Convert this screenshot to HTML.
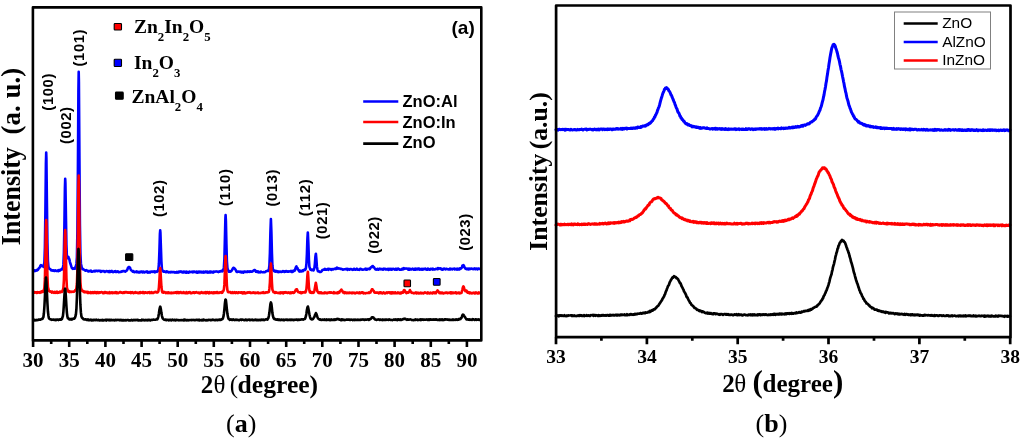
<!DOCTYPE html>
<html><head><meta charset="utf-8"><style>
html,body{margin:0;padding:0;background:#fff;width:1024px;height:441px;overflow:hidden}
svg{display:block;filter:blur(0.35px)}
</style></head><body>
<svg width="1024" height="441" viewBox="0 0 1024 441">
<rect width="1024" height="441" fill="#fff"/>
<!-- chart a curves -->
<g fill="none" stroke-linejoin="round" stroke-linecap="round" stroke-width="2.6">
<path d="M33.40,270.71 L33.90,270.48 L34.40,271.05 L34.90,270.32 L35.40,270.84 L35.90,270.57 L36.40,270.11 L36.90,270.50 L37.40,269.70 L37.90,269.82 L38.40,268.87 L38.90,268.20 L39.40,267.76 L39.90,267.32 L40.40,265.62 L40.90,265.12 L41.20,265.27 L41.40,265.39 L41.90,265.96 L42.40,265.91 L42.90,266.07 L43.40,266.84 L43.90,264.99 L44.40,262.23 L44.90,247.18 L45.40,211.08 L45.90,164.06 L46.20,152.49 L46.40,157.89 L46.90,202.48 L47.40,242.26 L47.90,261.04 L48.40,266.60 L48.90,267.98 L49.40,269.00 L49.90,268.93 L50.40,269.27 L50.90,269.68 L51.40,270.43 L51.90,270.26 L52.40,270.22 L52.90,270.62 L53.40,270.52 L53.90,270.37 L54.40,271.00 L54.90,270.90 L55.40,270.36 L55.90,270.76 L56.40,270.70 L56.90,271.10 L57.40,270.90 L57.90,270.34 L58.40,271.12 L58.90,270.02 L59.40,270.30 L59.90,270.60 L60.40,269.73 L60.90,269.93 L61.40,269.12 L61.90,269.49 L62.40,269.00 L62.90,267.62 L63.40,264.64 L63.90,252.56 L64.40,225.15 L64.90,188.58 L65.20,178.80 L65.40,182.78 L65.90,214.88 L66.40,244.58 L66.90,256.70 L67.40,258.28 L67.90,258.04 L68.40,256.92 L68.60,257.51 L68.90,258.15 L69.40,259.48 L69.90,261.86 L70.40,263.75 L70.90,265.01 L71.40,266.66 L71.90,268.10 L72.40,268.01 L72.90,268.90 L73.40,268.67 L73.90,268.53 L74.40,268.21 L74.90,268.61 L75.40,267.13 L75.90,266.11 L76.40,263.96 L76.90,257.45 L77.40,231.78 L77.90,171.39 L78.40,92.22 L78.70,71.84 L78.90,81.74 L79.40,155.63 L79.90,223.90 L80.40,254.00 L80.90,263.40 L81.40,266.19 L81.90,268.19 L82.40,269.14 L82.90,268.76 L83.40,269.21 L83.90,269.59 L84.40,269.83 L84.90,270.31 L85.40,270.58 L85.90,270.31 L86.40,270.10 L86.90,270.68 L87.40,270.69 L87.90,270.98 L88.40,271.50 L88.90,271.23 L89.40,271.06 L89.90,271.21 L90.40,271.31 L90.90,270.59 L91.40,271.63 L91.90,271.51 L92.40,271.64 L92.90,271.57 L93.40,271.10 L93.90,271.12 L94.40,270.78 L94.90,271.43 L95.40,270.76 L95.90,270.78 L96.40,270.96 L96.90,270.91 L97.40,271.13 L97.90,270.80 L98.40,270.74 L98.90,270.93 L99.40,270.88 L99.90,271.20 L100.40,270.81 L100.90,271.84 L101.40,271.53 L101.90,270.98 L102.40,271.12 L102.90,271.24 L103.40,271.27 L103.90,270.99 L104.40,271.87 L104.90,272.05 L105.40,271.43 L105.90,271.46 L106.40,270.99 L106.90,271.01 L107.40,271.31 L107.90,271.22 L108.40,271.91 L108.90,271.12 L109.40,270.96 L109.90,272.08 L110.40,271.58 L110.90,271.13 L111.40,271.61 L111.90,270.99 L112.40,271.60 L112.90,272.15 L113.40,272.02 L113.90,271.82 L114.40,271.31 L114.90,271.44 L115.40,271.20 L115.90,271.93 L116.40,271.65 L116.90,271.95 L117.40,271.42 L117.90,271.29 L118.40,272.00 L118.90,272.21 L119.40,272.05 L119.90,272.00 L120.40,272.01 L120.90,271.92 L121.40,271.30 L121.90,271.64 L122.40,271.44 L122.90,271.03 L123.40,271.01 L123.90,271.27 L124.40,271.17 L124.90,271.56 L125.40,271.66 L125.90,270.72 L126.40,270.82 L126.90,270.26 L127.40,269.49 L127.90,268.04 L128.40,267.27 L128.90,266.99 L129.00,267.31 L129.40,267.09 L129.90,267.61 L130.40,268.83 L130.90,269.92 L131.40,270.53 L131.90,270.65 L132.40,271.26 L132.90,271.71 L133.40,271.02 L133.90,271.82 L134.40,272.18 L134.90,272.07 L135.40,272.06 L135.90,271.76 L136.40,271.42 L136.90,272.17 L137.40,271.64 L137.90,272.21 L138.40,272.43 L138.90,271.75 L139.40,271.77 L139.90,272.43 L140.40,272.17 L140.90,271.51 L141.40,271.47 L141.90,271.51 L142.40,272.42 L142.90,272.31 L143.40,271.52 L143.90,272.34 L144.40,272.53 L144.90,272.15 L145.40,271.79 L145.90,272.03 L146.40,271.53 L146.90,271.40 L147.40,272.55 L147.90,272.17 L148.40,272.02 L148.90,272.51 L149.40,271.91 L149.90,272.44 L150.40,272.38 L150.90,271.63 L151.40,271.67 L151.90,271.71 L152.40,271.63 L152.90,272.03 L153.40,271.61 L153.90,271.78 L154.40,271.40 L154.90,272.29 L155.40,271.56 L155.90,271.61 L156.40,271.65 L156.90,271.87 L157.40,271.03 L157.90,271.13 L158.40,269.14 L158.90,264.00 L159.40,251.26 L159.90,234.05 L160.20,230.38 L160.40,232.28 L160.90,247.44 L161.40,261.50 L161.90,268.89 L162.40,270.07 L162.90,271.03 L163.40,271.61 L163.90,271.59 L164.40,271.43 L164.90,271.75 L165.40,271.86 L165.90,272.18 L166.40,271.40 L166.90,271.98 L167.40,271.63 L167.90,271.68 L168.40,272.29 L168.90,271.99 L169.40,272.06 L169.90,272.31 L170.40,272.50 L170.90,271.94 L171.40,272.15 L171.90,272.03 L172.40,272.04 L172.90,272.26 L173.40,271.98 L173.90,272.08 L174.40,272.02 L174.90,272.57 L175.40,272.29 L175.90,272.50 L176.40,272.58 L176.90,271.76 L177.40,272.13 L177.90,272.59 L178.40,272.47 L178.90,271.62 L179.40,271.61 L179.90,271.99 L180.40,271.55 L180.90,271.75 L181.40,271.55 L181.90,272.27 L182.40,272.41 L182.90,272.54 L183.40,271.65 L183.90,272.33 L184.40,272.26 L184.90,271.64 L185.40,272.53 L185.90,272.63 L186.40,271.73 L186.90,272.61 L187.40,271.95 L187.90,272.05 L188.40,272.66 L188.90,272.47 L189.40,271.66 L189.90,271.99 L190.40,272.09 L190.90,271.88 L191.40,271.70 L191.90,271.85 L192.40,272.34 L192.90,271.49 L193.40,272.13 L193.90,272.00 L194.40,271.49 L194.90,271.87 L195.40,272.22 L195.90,272.08 L196.40,271.55 L196.90,272.65 L197.40,272.41 L197.90,272.63 L198.40,271.59 L198.90,271.79 L199.40,271.51 L199.90,272.40 L200.40,271.79 L200.90,271.62 L201.40,271.97 L201.90,272.56 L202.40,272.44 L202.90,271.77 L203.40,271.64 L203.90,272.56 L204.40,272.14 L204.90,272.30 L205.40,271.56 L205.90,271.52 L206.40,272.28 L206.90,271.96 L207.40,271.54 L207.90,272.57 L208.40,272.21 L208.90,272.40 L209.40,271.54 L209.90,272.46 L210.40,271.51 L210.90,272.47 L211.40,271.97 L211.90,271.83 L212.40,272.08 L212.90,272.52 L213.40,271.73 L213.90,271.56 L214.40,272.02 L214.90,271.67 L215.40,271.51 L215.90,271.56 L216.40,271.41 L216.90,271.58 L217.40,271.69 L217.90,271.66 L218.40,272.18 L218.90,271.58 L219.40,271.79 L219.90,271.36 L220.40,271.49 L220.90,271.01 L221.40,271.17 L221.90,270.72 L222.40,271.34 L222.90,270.73 L223.40,269.48 L223.90,267.18 L224.40,258.93 L224.90,238.43 L225.40,218.13 L225.60,215.05 L225.90,220.78 L226.40,243.53 L226.90,261.34 L227.40,267.88 L227.90,270.05 L228.40,270.93 L228.90,271.61 L229.40,271.04 L229.90,271.74 L230.40,271.62 L230.90,271.45 L231.40,270.92 L231.90,270.38 L232.40,269.31 L232.90,268.55 L233.40,267.72 L233.90,267.92 L234.40,268.56 L234.90,268.77 L235.40,269.56 L235.90,270.23 L236.40,271.67 L236.90,272.02 L237.40,271.95 L237.90,271.58 L238.40,271.58 L238.90,271.67 L239.40,271.89 L239.90,271.54 L240.40,271.90 L240.90,271.69 L241.40,272.54 L241.90,272.56 L242.40,272.05 L242.90,271.69 L243.40,272.56 L243.90,271.78 L244.40,271.84 L244.90,271.41 L245.40,271.87 L245.90,271.98 L246.40,272.01 L246.90,271.65 L247.40,272.01 L247.90,271.41 L248.40,271.72 L248.90,271.50 L249.40,271.87 L249.90,271.42 L250.40,271.38 L250.90,271.67 L251.40,271.49 L251.90,271.74 L252.40,271.38 L252.90,271.25 L253.40,270.69 L253.90,270.40 L254.30,270.03 L254.40,270.50 L254.90,270.13 L255.40,270.47 L255.90,271.69 L256.40,271.04 L256.90,271.97 L257.40,272.00 L257.90,271.35 L258.40,272.33 L258.90,272.42 L259.40,272.10 L259.90,272.23 L260.40,272.33 L260.90,271.51 L261.40,271.97 L261.90,271.94 L262.40,272.32 L262.90,272.27 L263.40,272.28 L263.90,271.96 L264.40,272.30 L264.90,272.01 L265.40,271.96 L265.90,271.33 L266.40,270.99 L266.90,270.98 L267.40,271.07 L267.90,270.48 L268.40,270.89 L268.90,269.38 L269.40,265.37 L269.90,253.36 L270.40,232.45 L270.90,218.96 L271.40,232.20 L271.90,252.57 L272.40,265.52 L272.90,269.53 L273.40,270.39 L273.90,270.88 L274.40,271.29 L274.90,270.74 L275.40,271.66 L275.90,271.16 L276.40,271.00 L276.90,271.28 L277.40,271.86 L277.90,271.26 L278.40,271.91 L278.90,272.21 L279.40,271.64 L279.90,271.51 L280.40,271.62 L280.90,271.87 L281.40,271.97 L281.90,271.78 L282.40,271.81 L282.90,271.13 L283.40,271.21 L283.90,271.33 L284.40,271.91 L284.90,271.37 L285.40,271.68 L285.90,271.01 L286.40,271.05 L286.90,271.29 L287.40,271.77 L287.90,271.78 L288.40,271.75 L288.90,271.27 L289.40,271.53 L289.90,271.45 L290.40,271.43 L290.90,270.99 L291.40,271.90 L291.90,271.04 L292.40,271.94 L292.90,271.84 L293.40,270.65 L293.90,270.98 L294.40,271.01 L294.90,270.43 L295.40,268.69 L295.90,267.26 L296.40,266.46 L296.50,266.78 L296.90,267.65 L297.40,267.85 L297.90,269.47 L298.40,269.82 L298.90,270.78 L299.40,271.53 L299.90,270.63 L300.40,271.44 L300.90,271.02 L301.40,271.42 L301.90,271.13 L302.40,270.48 L302.90,271.18 L303.40,270.57 L303.90,269.87 L304.40,269.65 L304.90,269.97 L305.40,269.49 L305.90,268.20 L306.40,264.21 L306.90,254.29 L307.40,238.81 L307.80,232.47 L307.90,233.33 L308.40,244.49 L308.90,259.52 L309.40,266.73 L309.90,268.08 L310.40,269.64 L310.90,269.60 L311.40,270.04 L311.90,269.48 L312.40,269.70 L312.90,269.80 L313.40,270.50 L313.90,269.67 L314.40,267.85 L314.90,263.53 L315.40,256.58 L315.80,254.03 L315.90,253.72 L316.40,259.36 L316.90,266.70 L317.40,269.36 L317.90,271.27 L318.40,270.97 L318.90,271.37 L319.40,272.00 L319.90,271.92 L320.40,271.81 L320.90,272.01 L321.40,271.41 L321.90,270.81 L322.40,270.07 L322.90,269.89 L323.40,269.83 L323.90,269.36 L324.40,269.57 L324.90,268.77 L325.40,269.60 L325.90,269.26 L326.40,269.63 L326.90,269.50 L327.40,269.07 L327.90,268.78 L328.40,269.84 L328.90,268.88 L329.40,269.29 L329.90,269.14 L330.40,269.08 L330.90,269.61 L331.40,269.89 L331.90,269.02 L332.40,269.49 L332.90,269.05 L333.40,269.34 L333.90,269.11 L334.40,268.77 L334.90,268.63 L335.40,268.47 L335.90,269.01 L336.40,268.19 L336.90,267.58 L337.30,267.84 L337.40,268.33 L337.90,268.61 L338.40,268.26 L338.90,268.22 L339.40,268.54 L339.90,268.60 L340.40,269.00 L340.90,268.76 L341.40,268.96 L341.90,269.00 L342.40,269.38 L342.90,269.76 L343.40,269.60 L343.90,269.20 L344.40,269.20 L344.90,269.34 L345.40,269.16 L345.90,269.12 L346.40,268.78 L346.90,269.04 L347.40,269.87 L347.90,268.86 L348.40,269.31 L348.90,269.46 L349.40,269.74 L349.90,268.97 L350.40,269.03 L350.90,269.00 L351.40,269.18 L351.90,269.24 L352.40,269.85 L352.90,269.72 L353.40,269.75 L353.90,268.73 L354.40,268.74 L354.90,269.55 L355.40,269.77 L355.90,269.26 L356.40,269.40 L356.90,268.69 L357.40,269.16 L357.90,269.80 L358.40,269.68 L358.90,269.71 L359.40,269.85 L359.90,268.98 L360.40,268.81 L360.90,268.86 L361.40,269.30 L361.90,269.49 L362.40,269.80 L362.90,269.53 L363.40,269.44 L363.90,269.58 L364.40,269.20 L364.90,269.31 L365.40,268.69 L365.90,269.57 L366.40,268.91 L366.90,269.72 L367.40,269.38 L367.90,268.95 L368.40,268.71 L368.90,268.80 L369.40,269.16 L369.90,269.02 L370.40,267.96 L370.90,267.38 L371.40,267.26 L371.90,266.71 L372.40,266.14 L372.50,266.26 L372.90,266.09 L373.40,267.08 L373.90,267.04 L374.40,267.98 L374.90,268.60 L375.40,269.46 L375.90,269.22 L376.40,269.58 L376.90,269.12 L377.40,268.85 L377.90,268.88 L378.40,269.75 L378.90,269.45 L379.40,268.97 L379.90,268.64 L380.40,269.21 L380.90,269.42 L381.40,269.12 L381.90,268.93 L382.40,269.42 L382.90,269.73 L383.40,268.89 L383.90,268.66 L384.40,269.03 L384.90,269.12 L385.40,269.44 L385.90,268.86 L386.40,269.57 L386.90,269.50 L387.40,269.22 L387.90,268.86 L388.40,269.78 L388.90,268.99 L389.40,269.60 L389.90,268.89 L390.40,268.88 L390.90,269.52 L391.40,268.96 L391.90,269.75 L392.40,269.20 L392.90,268.83 L393.40,268.87 L393.90,269.10 L394.40,269.40 L394.90,269.74 L395.40,268.77 L395.90,269.07 L396.40,268.85 L396.90,269.76 L397.40,268.76 L397.90,268.65 L398.40,268.66 L398.90,269.06 L399.40,269.66 L399.90,269.64 L400.40,269.45 L400.90,269.76 L401.40,269.66 L401.90,268.90 L402.40,268.66 L402.90,269.46 L403.40,269.10 L403.90,268.11 L404.40,268.79 L404.60,268.58 L404.90,268.45 L405.40,268.54 L405.90,268.62 L406.40,268.55 L406.90,268.44 L407.40,268.83 L407.90,268.95 L408.40,269.69 L408.90,268.70 L409.40,269.71 L409.90,268.81 L410.40,268.99 L410.90,269.54 L411.40,269.54 L411.90,269.08 L412.40,268.62 L412.90,269.13 L413.40,269.00 L413.90,269.66 L414.40,268.79 L414.90,268.99 L415.40,269.63 L415.90,268.59 L416.40,269.04 L416.90,269.52 L417.40,269.47 L417.90,268.60 L418.40,268.59 L418.90,268.62 L419.40,269.65 L419.90,268.85 L420.40,269.44 L420.90,269.62 L421.40,268.95 L421.90,268.87 L422.40,269.69 L422.90,269.28 L423.40,268.85 L423.90,269.39 L424.40,268.91 L424.90,268.86 L425.40,268.53 L425.90,269.44 L426.40,269.63 L426.90,269.29 L427.40,269.66 L427.90,268.55 L428.40,268.80 L428.90,269.09 L429.40,269.67 L429.90,269.66 L430.40,268.98 L430.90,268.81 L431.40,269.03 L431.90,269.10 L432.40,269.62 L432.90,268.72 L433.40,269.46 L433.90,269.38 L434.40,269.48 L434.90,269.41 L435.40,269.19 L435.90,268.82 L436.40,268.75 L436.90,268.71 L437.40,269.10 L437.90,268.15 L438.40,268.24 L438.50,268.60 L438.90,268.93 L439.40,268.41 L439.90,268.30 L440.40,268.36 L440.90,269.05 L441.40,268.82 L441.90,269.63 L442.40,269.53 L442.90,269.66 L443.40,268.79 L443.90,268.57 L444.40,268.59 L444.90,269.07 L445.40,269.32 L445.90,269.01 L446.40,268.75 L446.90,268.97 L447.40,269.21 L447.90,269.28 L448.40,269.36 L448.90,269.48 L449.40,269.26 L449.90,268.61 L450.40,269.47 L450.90,268.81 L451.40,269.13 L451.90,268.90 L452.40,269.33 L452.90,268.68 L453.40,268.74 L453.90,268.73 L454.40,268.62 L454.90,269.49 L455.40,269.12 L455.90,268.81 L456.40,268.89 L456.90,269.59 L457.40,269.00 L457.90,268.65 L458.40,269.33 L458.90,269.11 L459.40,269.47 L459.90,268.31 L460.40,268.57 L460.90,268.64 L461.40,268.12 L461.90,267.49 L462.40,265.66 L462.90,265.40 L463.20,265.54 L463.40,265.13 L463.90,265.70 L464.40,267.40 L464.90,267.67 L465.40,268.67 L465.90,268.38 L466.40,269.18 L466.90,268.79 L467.40,268.62 L467.90,269.27 L468.40,269.48 L468.90,268.49 L469.40,269.09 L469.90,269.12 L470.40,268.64 L470.90,268.83 L471.40,268.56 L471.90,268.64 L472.40,268.70 L472.90,269.11 L473.40,269.18 L473.90,268.64 L474.40,268.41 L474.90,268.79 L475.40,269.21 L475.90,268.62 L476.40,268.77 L476.90,268.64 L477.40,269.35 L477.90,269.05 L478.40,268.47 L478.90,268.52 L479.40,268.87 L479.90,269.05" stroke="#0000ff"/>
<path d="M33.40,292.66 L33.90,291.99 L34.40,292.07 L34.90,292.70 L35.40,292.35 L35.90,292.18 L36.40,292.20 L36.90,292.96 L37.40,292.17 L37.90,292.45 L38.40,292.18 L38.90,292.21 L39.40,292.71 L39.90,292.82 L40.40,292.00 L40.90,291.72 L41.40,292.25 L41.90,291.48 L42.40,291.05 L42.90,291.84 L43.40,290.82 L43.90,290.44 L44.40,287.34 L44.90,278.91 L45.40,256.26 L45.90,227.05 L46.20,220.06 L46.40,222.90 L46.90,250.44 L47.40,275.36 L47.90,286.88 L48.40,289.24 L48.90,290.91 L49.40,291.10 L49.90,291.57 L50.40,291.34 L50.90,291.65 L51.40,292.04 L51.90,292.61 L52.40,291.68 L52.90,292.19 L53.40,292.60 L53.90,292.81 L54.40,291.91 L54.90,291.83 L55.40,292.82 L55.90,292.86 L56.40,292.27 L56.90,291.74 L57.40,292.78 L57.90,292.11 L58.40,292.70 L58.90,292.32 L59.40,292.52 L59.90,291.66 L60.40,292.32 L60.90,291.53 L61.40,291.58 L61.90,291.86 L62.40,291.46 L62.90,289.94 L63.40,287.75 L63.90,280.23 L64.40,261.34 L64.90,236.38 L65.20,230.16 L65.40,232.66 L65.90,255.91 L66.40,277.79 L66.90,287.61 L67.40,289.46 L67.90,290.96 L68.40,291.60 L68.90,290.98 L69.40,292.10 L69.90,291.33 L70.40,291.97 L70.90,291.94 L71.40,292.04 L71.90,291.63 L72.40,291.73 L72.90,291.86 L73.40,291.57 L73.90,291.70 L74.40,291.24 L74.90,290.93 L75.40,289.98 L75.90,289.99 L76.40,288.46 L76.90,283.97 L77.40,270.08 L77.90,234.38 L78.40,187.44 L78.70,175.56 L78.90,180.71 L79.40,224.48 L79.90,264.08 L80.40,282.18 L80.90,287.96 L81.40,289.23 L81.90,290.45 L82.40,291.03 L82.90,290.81 L83.40,291.77 L83.90,291.28 L84.40,292.20 L84.90,292.36 L85.40,292.12 L85.90,291.64 L86.40,292.24 L86.90,292.13 L87.40,292.86 L87.90,291.91 L88.40,292.80 L88.90,292.99 L89.40,292.70 L89.90,292.82 L90.40,292.09 L90.90,293.05 L91.40,292.47 L91.90,293.04 L92.40,293.00 L92.90,292.11 L93.40,292.87 L93.90,293.05 L94.40,292.01 L94.90,292.36 L95.40,292.86 L95.90,292.14 L96.40,293.04 L96.90,292.29 L97.40,292.95 L97.90,292.14 L98.40,292.58 L98.90,293.08 L99.40,292.23 L99.90,292.30 L100.40,292.60 L100.90,292.38 L101.40,292.04 L101.90,292.22 L102.40,292.19 L102.90,293.13 L103.40,292.82 L103.90,293.08 L104.40,292.21 L104.90,292.95 L105.40,292.15 L105.90,292.65 L106.40,292.78 L106.90,292.45 L107.40,293.07 L107.90,292.69 L108.40,292.72 L108.90,293.08 L109.40,292.15 L109.90,293.22 L110.40,292.78 L110.90,292.50 L111.40,292.99 L111.90,292.35 L112.40,293.22 L112.90,292.73 L113.40,292.47 L113.90,292.95 L114.40,292.57 L114.90,292.25 L115.40,292.93 L115.90,292.10 L116.40,293.02 L116.90,292.35 L117.40,292.81 L117.90,293.22 L118.40,292.75 L118.90,292.84 L119.40,292.42 L119.90,292.05 L120.40,292.09 L120.90,292.23 L121.40,292.79 L121.90,292.57 L122.40,292.66 L122.90,293.12 L123.40,292.21 L123.90,292.32 L124.40,292.84 L124.90,292.08 L125.40,292.06 L125.90,292.48 L126.40,292.18 L126.90,292.48 L127.40,292.32 L127.90,292.76 L128.40,292.76 L128.90,292.30 L129.40,292.81 L129.90,292.63 L130.40,292.22 L130.90,293.18 L131.40,292.35 L131.90,292.24 L132.40,292.17 L132.90,292.83 L133.40,293.11 L133.90,293.00 L134.40,292.54 L134.90,292.38 L135.40,292.08 L135.90,292.84 L136.40,292.74 L136.90,292.48 L137.40,292.84 L137.90,292.59 L138.40,293.19 L138.90,292.94 L139.40,292.36 L139.90,293.15 L140.40,292.12 L140.90,292.70 L141.40,292.55 L141.90,292.35 L142.40,292.13 L142.90,293.00 L143.40,292.08 L143.90,292.72 L144.40,293.19 L144.90,292.23 L145.40,292.30 L145.90,292.79 L146.40,292.66 L146.90,292.82 L147.40,293.03 L147.90,292.26 L148.40,292.42 L148.90,292.41 L149.40,292.10 L149.90,293.11 L150.40,292.98 L150.90,292.89 L151.40,292.03 L151.90,293.03 L152.40,292.90 L152.90,292.56 L153.40,292.88 L153.90,292.51 L154.40,292.22 L154.90,292.05 L155.40,292.17 L155.90,291.89 L156.40,292.18 L156.90,292.58 L157.40,292.36 L157.90,292.25 L158.40,291.21 L158.90,287.60 L159.40,280.41 L159.90,270.44 L160.20,267.99 L160.40,269.51 L160.90,278.36 L161.40,286.50 L161.90,290.77 L162.40,292.30 L162.90,291.75 L163.40,292.72 L163.90,291.78 L164.40,292.15 L164.90,292.17 L165.40,292.82 L165.90,293.09 L166.40,292.87 L166.90,292.39 L167.40,293.07 L167.90,292.41 L168.40,292.32 L168.90,293.13 L169.40,292.80 L169.90,292.88 L170.40,292.85 L170.90,293.24 L171.40,292.63 L171.90,293.08 L172.40,292.91 L172.90,293.10 L173.40,292.60 L173.90,292.95 L174.40,292.77 L174.90,292.45 L175.40,292.34 L175.90,292.83 L176.40,292.18 L176.90,293.18 L177.40,292.26 L177.90,292.12 L178.40,292.22 L178.90,293.21 L179.40,292.51 L179.90,292.27 L180.40,292.13 L180.90,292.15 L181.40,292.93 L181.90,292.86 L182.40,292.94 L182.90,292.99 L183.40,292.18 L183.90,292.81 L184.40,292.54 L184.90,293.09 L185.40,293.09 L185.90,293.18 L186.40,292.19 L186.90,293.15 L187.40,293.20 L187.90,293.24 L188.40,292.24 L188.90,292.36 L189.40,292.24 L189.90,292.15 L190.40,293.13 L190.90,293.09 L191.40,292.87 L191.90,293.10 L192.40,292.87 L192.90,292.46 L193.40,292.23 L193.90,292.23 L194.40,293.02 L194.90,292.36 L195.40,292.50 L195.90,292.62 L196.40,292.14 L196.90,292.42 L197.40,292.45 L197.90,292.97 L198.40,292.56 L198.90,292.50 L199.40,293.27 L199.90,292.72 L200.40,293.14 L200.90,292.86 L201.40,292.15 L201.90,292.61 L202.40,292.64 L202.90,293.04 L203.40,292.53 L203.90,292.96 L204.40,292.76 L204.90,292.37 L205.40,293.15 L205.90,292.22 L206.40,293.10 L206.90,292.32 L207.40,292.11 L207.90,292.35 L208.40,293.02 L208.90,293.28 L209.40,292.11 L209.90,292.70 L210.40,292.69 L210.90,293.06 L211.40,292.32 L211.90,292.69 L212.40,292.51 L212.90,293.09 L213.40,292.40 L213.90,293.22 L214.40,292.42 L214.90,292.34 L215.40,292.91 L215.90,292.66 L216.40,292.19 L216.90,292.81 L217.40,292.13 L217.90,292.97 L218.40,292.84 L218.90,292.93 L219.40,292.72 L219.90,292.36 L220.40,292.37 L220.90,292.31 L221.40,292.83 L221.90,291.75 L222.40,292.56 L222.90,291.27 L223.40,290.97 L223.90,289.33 L224.40,284.42 L224.90,271.34 L225.40,257.54 L225.60,255.95 L225.90,260.16 L226.40,274.03 L226.90,285.54 L227.40,290.19 L227.90,291.78 L228.40,292.21 L228.90,292.31 L229.40,292.10 L229.90,292.17 L230.40,292.04 L230.90,292.92 L231.40,292.74 L231.90,292.87 L232.40,292.20 L232.90,292.55 L233.40,292.97 L233.90,292.75 L234.40,292.21 L234.90,292.63 L235.40,293.14 L235.90,292.37 L236.40,292.32 L236.90,292.46 L237.40,292.95 L237.90,293.12 L238.40,292.30 L238.90,292.30 L239.40,292.42 L239.90,292.51 L240.40,292.75 L240.90,292.32 L241.40,292.52 L241.90,292.36 L242.40,293.30 L242.90,293.01 L243.40,292.26 L243.90,293.29 L244.40,292.26 L244.90,292.60 L245.40,293.32 L245.90,293.09 L246.40,293.02 L246.90,292.66 L247.40,292.38 L247.90,292.91 L248.40,292.27 L248.90,292.39 L249.40,292.61 L249.90,292.18 L250.40,292.62 L250.90,293.09 L251.40,292.98 L251.90,292.75 L252.40,292.90 L252.90,292.70 L253.40,292.31 L253.90,292.87 L254.40,292.63 L254.90,293.03 L255.40,293.23 L255.90,292.66 L256.40,292.83 L256.90,293.04 L257.40,292.64 L257.90,292.41 L258.40,293.00 L258.90,293.19 L259.40,293.06 L259.90,292.96 L260.40,293.14 L260.90,292.93 L261.40,292.88 L261.90,292.65 L262.40,292.47 L262.90,292.84 L263.40,292.19 L263.90,292.56 L264.40,292.98 L264.90,292.88 L265.40,292.75 L265.90,292.26 L266.40,292.41 L266.90,292.38 L267.40,292.49 L267.90,292.08 L268.40,292.15 L268.90,291.81 L269.40,288.66 L269.90,282.59 L270.40,271.15 L270.90,263.48 L271.40,270.68 L271.90,282.39 L272.40,289.61 L272.90,290.74 L273.40,291.99 L273.90,291.79 L274.40,292.68 L274.90,292.97 L275.40,292.53 L275.90,292.08 L276.40,292.69 L276.90,292.68 L277.40,292.91 L277.90,292.68 L278.40,292.85 L278.90,293.09 L279.40,292.73 L279.90,292.60 L280.40,293.26 L280.90,292.38 L281.40,292.95 L281.90,292.60 L282.40,293.05 L282.90,292.29 L283.40,293.32 L283.90,292.57 L284.40,292.21 L284.90,292.48 L285.40,292.63 L285.90,292.16 L286.40,292.65 L286.90,292.65 L287.40,292.99 L287.90,292.57 L288.40,292.46 L288.90,292.41 L289.40,293.03 L289.90,293.26 L290.40,292.76 L290.90,292.38 L291.40,293.07 L291.90,292.57 L292.40,292.33 L292.90,292.21 L293.40,292.92 L293.90,292.82 L294.40,292.31 L294.90,291.55 L295.40,290.82 L295.90,289.49 L296.40,289.84 L296.50,289.26 L296.90,289.35 L297.40,290.52 L297.90,291.64 L298.40,292.32 L298.90,292.29 L299.40,292.27 L299.90,292.65 L300.40,292.17 L300.90,293.03 L301.40,292.46 L301.90,293.05 L302.40,292.34 L302.90,292.44 L303.40,292.26 L303.90,292.42 L304.40,292.06 L304.90,291.73 L305.40,292.38 L305.90,291.27 L306.40,289.16 L306.90,283.64 L307.40,275.35 L307.80,271.77 L307.90,271.94 L308.40,278.95 L308.90,286.81 L309.40,290.41 L309.90,292.34 L310.40,292.61 L310.90,291.80 L311.40,292.81 L311.90,292.94 L312.40,292.81 L312.90,292.01 L313.40,292.77 L313.90,292.27 L314.40,290.56 L314.90,287.91 L315.40,285.00 L315.80,282.75 L315.90,283.06 L316.40,285.80 L316.90,289.36 L317.40,291.31 L317.90,292.02 L318.40,292.85 L318.90,292.41 L319.40,292.23 L319.90,293.17 L320.40,293.06 L320.90,292.33 L321.40,293.21 L321.90,292.88 L322.40,293.10 L322.90,292.97 L323.40,293.24 L323.90,293.12 L324.40,293.19 L324.90,292.42 L325.40,293.02 L325.90,292.83 L326.40,293.08 L326.90,292.72 L327.40,293.26 L327.90,292.87 L328.40,292.52 L328.90,292.48 L329.40,292.37 L329.90,292.80 L330.40,292.28 L330.90,292.77 L331.40,292.38 L331.90,292.80 L332.40,292.80 L332.90,292.85 L333.40,293.24 L333.90,292.21 L334.40,293.21 L334.90,292.76 L335.40,292.87 L335.90,292.99 L336.40,293.19 L336.90,292.62 L337.40,292.66 L337.90,293.29 L338.40,292.19 L338.90,292.77 L339.40,292.53 L339.90,291.28 L340.40,291.12 L340.90,290.23 L341.40,289.53 L341.90,290.53 L342.40,290.79 L342.90,292.43 L343.40,292.39 L343.90,292.59 L344.40,293.18 L344.90,292.19 L345.40,293.03 L345.90,292.93 L346.40,292.60 L346.90,293.24 L347.40,292.65 L347.90,292.78 L348.40,292.85 L348.90,293.15 L349.40,292.48 L349.90,292.75 L350.40,292.74 L350.90,292.90 L351.40,293.22 L351.90,292.59 L352.40,293.23 L352.90,292.72 L353.40,292.84 L353.90,292.56 L354.40,292.85 L354.90,293.41 L355.40,293.03 L355.90,293.19 L356.40,292.64 L356.90,292.62 L357.40,292.60 L357.90,292.95 L358.40,293.00 L358.90,293.18 L359.40,292.29 L359.90,293.11 L360.40,293.30 L360.90,292.90 L361.40,292.30 L361.90,292.60 L362.40,292.25 L362.90,292.47 L363.40,293.34 L363.90,292.97 L364.40,293.02 L364.90,293.18 L365.40,293.32 L365.90,292.96 L366.40,292.96 L366.90,292.96 L367.40,293.04 L367.90,292.90 L368.40,292.99 L368.90,292.40 L369.40,292.88 L369.90,292.49 L370.40,292.56 L370.90,291.20 L371.40,290.46 L371.90,289.37 L372.40,289.71 L372.50,289.37 L372.90,290.13 L373.40,290.65 L373.90,291.22 L374.40,292.44 L374.90,292.80 L375.40,292.72 L375.90,292.44 L376.40,292.53 L376.90,292.70 L377.40,292.59 L377.90,292.73 L378.40,293.00 L378.90,293.35 L379.40,292.30 L379.90,292.92 L380.40,292.29 L380.90,292.39 L381.40,293.23 L381.90,292.95 L382.40,293.36 L382.90,292.80 L383.40,292.28 L383.90,292.73 L384.40,292.97 L384.90,293.39 L385.40,293.44 L385.90,292.84 L386.40,292.76 L386.90,292.39 L387.40,293.04 L387.90,292.53 L388.40,292.45 L388.90,292.29 L389.40,292.28 L389.90,293.09 L390.40,292.42 L390.90,293.43 L391.40,292.38 L391.90,293.32 L392.40,292.43 L392.90,292.30 L393.40,293.14 L393.90,292.57 L394.40,293.16 L394.90,292.50 L395.40,292.33 L395.90,293.20 L396.40,293.13 L396.90,293.30 L397.40,293.15 L397.90,292.37 L398.40,293.02 L398.90,293.12 L399.40,292.82 L399.90,293.38 L400.40,292.56 L400.90,293.40 L401.40,293.09 L401.90,292.22 L402.40,292.16 L402.90,292.70 L403.40,292.27 L403.90,290.28 L404.40,290.08 L404.90,290.55 L405.40,292.16 L405.90,292.11 L406.40,293.15 L406.90,292.75 L407.40,292.24 L407.90,292.58 L408.40,292.69 L408.90,292.07 L409.40,291.42 L409.90,289.98 L410.00,290.38 L410.40,291.17 L410.90,291.66 L411.40,292.67 L411.90,292.90 L412.40,292.71 L412.90,292.70 L413.40,293.20 L413.90,293.40 L414.40,293.21 L414.90,292.96 L415.40,292.63 L415.90,292.36 L416.40,293.46 L416.90,293.13 L417.40,293.28 L417.90,292.69 L418.40,293.02 L418.90,293.47 L419.40,293.29 L419.90,293.02 L420.40,292.67 L420.90,292.81 L421.40,293.37 L421.90,292.75 L422.40,293.12 L422.90,293.02 L423.40,293.38 L423.90,293.27 L424.40,292.64 L424.90,292.31 L425.40,292.62 L425.90,292.81 L426.40,293.01 L426.90,293.28 L427.40,293.37 L427.90,292.36 L428.40,293.30 L428.90,293.28 L429.40,293.34 L429.90,292.99 L430.40,292.63 L430.90,293.32 L431.40,293.27 L431.90,293.12 L432.40,293.39 L432.90,292.71 L433.40,292.39 L433.90,292.94 L434.40,293.23 L434.90,292.49 L435.40,293.11 L435.90,293.18 L436.40,291.87 L436.90,291.38 L437.40,290.66 L437.50,290.42 L437.90,290.80 L438.40,291.51 L438.90,292.23 L439.40,293.07 L439.90,293.19 L440.40,292.82 L440.90,292.39 L441.40,293.26 L441.90,293.22 L442.40,292.58 L442.90,293.00 L443.40,293.38 L443.90,293.37 L444.40,292.94 L444.90,292.88 L445.40,293.02 L445.90,292.54 L446.40,292.55 L446.90,292.53 L447.40,293.16 L447.90,292.75 L448.40,292.99 L448.90,292.80 L449.40,292.94 L449.90,292.50 L450.40,292.37 L450.90,293.51 L451.40,292.77 L451.90,292.44 L452.40,293.07 L452.90,293.26 L453.40,292.50 L453.90,293.03 L454.40,292.72 L454.90,292.93 L455.40,292.33 L455.90,292.34 L456.40,293.49 L456.90,293.33 L457.40,292.87 L457.90,292.96 L458.40,292.58 L458.90,293.19 L459.40,292.74 L459.90,293.34 L460.40,293.08 L460.90,293.05 L461.40,292.99 L461.90,291.43 L462.40,289.54 L462.90,287.36 L463.40,286.36 L463.90,287.25 L464.40,289.32 L464.90,290.50 L465.40,291.15 L465.90,291.09 L466.20,290.56 L466.40,290.60 L466.90,291.82 L467.40,292.51 L467.90,291.97 L468.40,292.84 L468.90,292.68 L469.40,292.39 L469.90,293.42 L470.40,292.59 L470.90,292.97 L471.40,293.07 L471.90,293.46 L472.40,293.12 L472.90,292.79 L473.40,292.86 L473.90,292.52 L474.40,293.49 L474.90,293.52 L475.40,292.60 L475.90,292.38 L476.40,292.64 L476.90,292.76 L477.40,293.42 L477.90,293.43 L478.40,293.35 L478.90,292.40 L479.40,293.29 L479.90,293.20" stroke="#ff0000"/>
<path d="M33.40,320.27 L33.90,320.53 L34.40,319.78 L34.90,319.83 L35.40,320.31 L35.90,320.43 L36.40,320.20 L36.90,319.88 L37.40,320.08 L37.90,320.19 L38.40,319.63 L38.90,319.75 L39.40,319.64 L39.90,319.47 L40.40,319.67 L40.90,319.30 L41.40,319.21 L41.90,318.93 L42.40,319.04 L42.90,317.88 L43.40,317.00 L43.90,313.25 L44.40,306.52 L44.90,296.91 L45.40,284.61 L45.90,278.09 L46.00,277.51 L46.40,281.30 L46.90,292.08 L47.40,302.85 L47.90,311.24 L48.40,315.44 L48.90,318.14 L49.40,318.92 L49.90,319.15 L50.40,319.24 L50.90,319.31 L51.40,319.81 L51.90,319.62 L52.40,319.81 L52.90,319.47 L53.40,319.57 L53.90,319.47 L54.40,320.01 L54.90,319.90 L55.40,319.58 L55.90,320.16 L56.40,319.67 L56.90,319.78 L57.40,319.55 L57.90,319.62 L58.40,320.04 L58.90,319.60 L59.40,319.41 L59.90,319.59 L60.40,319.35 L60.90,319.68 L61.40,318.84 L61.90,319.13 L62.40,317.50 L62.90,316.08 L63.40,311.59 L63.90,304.12 L64.40,295.64 L64.90,289.14 L65.10,288.63 L65.40,289.92 L65.90,297.10 L66.40,305.81 L66.90,312.85 L67.40,316.62 L67.90,318.31 L68.40,318.37 L68.90,318.84 L69.40,319.48 L69.90,318.89 L70.40,319.47 L70.90,319.14 L71.40,319.67 L71.90,318.86 L72.40,319.41 L72.90,318.93 L73.40,318.61 L73.90,318.28 L74.40,318.62 L74.90,317.86 L75.40,316.56 L75.90,314.37 L76.40,309.21 L76.90,297.67 L77.40,280.74 L77.90,260.84 L78.40,249.07 L78.50,248.94 L78.90,254.99 L79.40,272.90 L79.90,291.46 L80.40,304.96 L80.90,312.44 L81.40,316.25 L81.90,317.60 L82.40,318.10 L82.90,318.45 L83.40,319.05 L83.90,319.33 L84.40,319.57 L84.90,319.51 L85.40,319.31 L85.90,319.28 L86.40,319.88 L86.90,319.68 L87.40,319.97 L87.90,319.48 L88.40,320.12 L88.90,319.77 L89.40,320.20 L89.90,320.24 L90.40,319.96 L90.90,319.60 L91.40,320.33 L91.90,319.99 L92.40,320.32 L92.90,319.85 L93.40,319.79 L93.90,320.32 L94.40,319.95 L94.90,319.80 L95.40,319.97 L95.90,320.16 L96.40,319.69 L96.90,320.11 L97.40,320.05 L97.90,320.11 L98.40,319.80 L98.90,320.28 L99.40,320.36 L99.90,320.40 L100.40,319.97 L100.90,320.29 L101.40,320.02 L101.90,320.32 L102.40,319.77 L102.90,320.42 L103.40,320.49 L103.90,320.12 L104.40,320.14 L104.90,320.16 L105.40,320.16 L105.90,319.75 L106.40,320.51 L106.90,319.91 L107.40,319.88 L107.90,319.82 L108.40,319.94 L108.90,320.39 L109.40,319.76 L109.90,319.82 L110.40,320.30 L110.90,319.89 L111.40,319.75 L111.90,320.22 L112.40,320.20 L112.90,320.16 L113.40,320.30 L113.90,319.82 L114.40,320.44 L114.90,320.31 L115.40,319.78 L115.90,319.84 L116.40,320.13 L116.90,320.14 L117.40,319.96 L117.90,319.84 L118.40,320.06 L118.90,319.85 L119.40,320.21 L119.90,320.43 L120.40,319.86 L120.90,320.20 L121.40,320.33 L121.90,319.87 L122.40,320.40 L122.90,320.49 L123.40,320.05 L123.90,320.07 L124.40,320.41 L124.90,320.15 L125.40,320.05 L125.90,320.49 L126.40,320.35 L126.90,320.00 L127.40,319.92 L127.90,320.00 L128.40,320.08 L128.90,320.51 L129.40,320.37 L129.90,320.46 L130.40,320.38 L130.90,320.40 L131.40,319.77 L131.90,320.14 L132.40,320.49 L132.90,320.47 L133.40,319.92 L133.90,320.06 L134.40,320.23 L134.90,320.01 L135.40,320.14 L135.90,319.77 L136.40,320.06 L136.90,320.12 L137.40,319.73 L137.90,319.82 L138.40,320.49 L138.90,320.33 L139.40,320.46 L139.90,320.21 L140.40,320.35 L140.90,320.41 L141.40,320.41 L141.90,319.73 L142.40,320.21 L142.90,319.91 L143.40,320.24 L143.90,319.91 L144.40,320.13 L144.90,320.43 L145.40,320.18 L145.90,319.88 L146.40,320.10 L146.90,320.02 L147.40,320.43 L147.90,319.90 L148.40,319.91 L148.90,320.18 L149.40,319.75 L149.90,320.12 L150.40,320.41 L150.90,320.04 L151.40,319.84 L151.90,319.99 L152.40,320.03 L152.90,319.70 L153.40,319.66 L153.90,319.65 L154.40,319.75 L154.90,319.80 L155.40,319.66 L155.90,319.56 L156.40,319.33 L156.90,319.49 L157.40,319.28 L157.90,318.14 L158.40,316.29 L158.90,313.52 L159.40,309.73 L159.90,307.41 L160.20,306.70 L160.40,306.91 L160.90,309.35 L161.40,312.82 L161.90,315.72 L162.40,317.61 L162.90,318.66 L163.40,319.16 L163.90,319.63 L164.40,319.64 L164.90,319.87 L165.40,319.46 L165.90,319.77 L166.40,320.21 L166.90,319.73 L167.40,320.01 L167.90,319.97 L168.40,319.82 L168.90,320.39 L169.40,319.84 L169.90,320.23 L170.40,319.75 L170.90,319.68 L171.40,320.32 L171.90,319.98 L172.40,319.68 L172.90,319.95 L173.40,319.99 L173.90,320.23 L174.40,319.73 L174.90,319.82 L175.40,320.41 L175.90,320.24 L176.40,319.77 L176.90,319.92 L177.40,319.93 L177.90,320.19 L178.40,320.14 L178.90,320.33 L179.40,320.31 L179.90,320.06 L180.40,320.24 L180.90,320.24 L181.40,320.26 L181.90,320.03 L182.40,320.28 L182.90,320.22 L183.40,320.38 L183.90,319.75 L184.40,320.35 L184.90,319.65 L185.40,320.26 L185.90,320.12 L186.40,320.04 L186.90,320.42 L187.40,320.10 L187.90,319.98 L188.40,320.27 L188.90,320.34 L189.40,320.13 L189.90,319.95 L190.40,320.00 L190.90,320.01 L191.40,320.22 L191.90,319.87 L192.40,319.95 L192.90,320.08 L193.40,319.94 L193.90,319.89 L194.40,320.26 L194.90,320.31 L195.40,320.03 L195.90,319.99 L196.40,319.78 L196.90,319.87 L197.40,319.74 L197.90,320.09 L198.40,320.09 L198.90,319.70 L199.40,320.36 L199.90,319.88 L200.40,320.30 L200.90,320.29 L201.40,320.39 L201.90,319.78 L202.40,319.96 L202.90,320.34 L203.40,319.62 L203.90,319.65 L204.40,320.06 L204.90,320.01 L205.40,320.34 L205.90,320.22 L206.40,320.03 L206.90,320.40 L207.40,320.01 L207.90,320.01 L208.40,320.14 L208.90,319.90 L209.40,319.87 L209.90,320.06 L210.40,319.86 L210.90,320.33 L211.40,320.11 L211.90,319.99 L212.40,319.64 L212.90,319.86 L213.40,319.87 L213.90,319.99 L214.40,320.00 L214.90,320.23 L215.40,320.29 L215.90,319.90 L216.40,319.85 L216.90,319.98 L217.40,320.26 L217.90,319.72 L218.40,319.84 L218.90,320.04 L219.40,319.49 L219.90,319.56 L220.40,320.03 L220.90,319.83 L221.40,319.47 L221.90,318.97 L222.40,319.24 L222.90,318.28 L223.40,316.70 L223.90,313.74 L224.40,309.04 L224.90,303.43 L225.40,299.60 L225.60,299.50 L225.90,300.16 L226.40,304.51 L226.90,309.75 L227.40,313.84 L227.90,316.61 L228.40,318.43 L228.90,319.09 L229.40,319.19 L229.90,319.87 L230.40,319.68 L230.90,319.28 L231.40,319.63 L231.90,319.97 L232.40,319.62 L232.90,319.95 L233.40,319.42 L233.90,319.68 L234.40,320.13 L234.90,319.94 L235.40,320.01 L235.90,319.64 L236.40,319.89 L236.90,319.94 L237.40,319.72 L237.90,320.03 L238.40,319.94 L238.90,320.32 L239.40,319.98 L239.90,319.85 L240.40,319.62 L240.90,319.65 L241.40,320.14 L241.90,319.62 L242.40,319.61 L242.90,319.67 L243.40,319.95 L243.90,320.19 L244.40,320.03 L244.90,320.18 L245.40,319.59 L245.90,319.55 L246.40,320.15 L246.90,319.79 L247.40,320.11 L247.90,319.82 L248.40,319.67 L248.90,319.75 L249.40,319.61 L249.90,320.25 L250.40,320.00 L250.90,319.81 L251.40,319.89 L251.90,319.83 L252.40,319.57 L252.90,320.23 L253.40,319.99 L253.90,320.29 L254.40,319.87 L254.90,320.01 L255.40,319.71 L255.90,319.54 L256.40,320.25 L256.90,320.19 L257.40,319.75 L257.90,320.21 L258.40,320.14 L258.90,319.73 L259.40,319.96 L259.90,320.24 L260.40,319.86 L260.90,320.21 L261.40,319.64 L261.90,319.75 L262.40,320.00 L262.90,319.58 L263.40,319.63 L263.90,320.06 L264.40,319.72 L264.90,319.94 L265.40,319.45 L265.90,319.34 L266.40,319.41 L266.90,319.16 L267.40,319.59 L267.90,318.63 L268.40,317.92 L268.90,315.69 L269.40,312.84 L269.90,308.41 L270.40,304.22 L270.90,302.43 L271.40,303.95 L271.90,308.20 L272.40,313.07 L272.90,315.87 L273.40,317.66 L273.90,318.54 L274.40,319.03 L274.90,319.19 L275.40,319.14 L275.90,319.72 L276.40,319.51 L276.90,319.41 L277.40,319.88 L277.90,319.41 L278.40,319.58 L278.90,320.05 L279.40,319.49 L279.90,319.76 L280.40,320.08 L280.90,320.07 L281.40,319.56 L281.90,319.72 L282.40,320.02 L282.90,319.74 L283.40,320.21 L283.90,319.62 L284.40,320.21 L284.90,319.86 L285.40,319.64 L285.90,319.82 L286.40,319.56 L286.90,320.02 L287.40,319.67 L287.90,320.18 L288.40,319.93 L288.90,319.75 L289.40,319.65 L289.90,319.94 L290.40,319.62 L290.90,320.15 L291.40,319.55 L291.90,319.86 L292.40,319.88 L292.90,319.66 L293.40,320.06 L293.90,319.75 L294.40,319.96 L294.90,319.89 L295.40,319.68 L295.90,319.74 L296.40,319.49 L296.90,319.55 L297.40,320.09 L297.90,319.65 L298.40,319.92 L298.90,319.47 L299.40,319.82 L299.90,319.64 L300.40,319.73 L300.90,319.55 L301.40,319.34 L301.90,319.51 L302.40,319.40 L302.90,319.26 L303.40,319.66 L303.90,319.19 L304.40,319.06 L304.90,318.97 L305.40,317.89 L305.90,316.24 L306.40,313.63 L306.90,309.95 L307.40,307.44 L307.80,306.82 L307.90,306.49 L308.40,308.65 L308.90,311.59 L309.40,314.30 L309.90,316.59 L310.40,318.17 L310.90,318.92 L311.40,318.89 L311.90,319.48 L312.40,319.07 L312.90,319.12 L313.40,318.33 L313.90,317.47 L314.40,316.88 L314.90,315.26 L315.40,313.99 L315.80,313.45 L315.90,313.11 L316.40,313.92 L316.90,315.46 L317.40,316.94 L317.90,318.12 L318.40,318.87 L318.90,318.96 L319.40,319.36 L319.90,319.71 L320.40,319.39 L320.90,319.95 L321.40,319.76 L321.90,319.90 L322.40,319.54 L322.90,319.70 L323.40,319.91 L323.90,319.65 L324.40,319.38 L324.90,320.05 L325.40,320.01 L325.90,319.62 L326.40,319.43 L326.90,320.08 L327.40,319.88 L327.90,319.44 L328.40,319.60 L328.90,319.49 L329.40,320.04 L329.90,319.57 L330.40,320.13 L330.90,320.00 L331.40,319.47 L331.90,319.95 L332.40,319.71 L332.90,319.98 L333.40,320.04 L333.90,319.58 L334.40,319.38 L334.90,319.97 L335.40,319.41 L335.90,319.62 L336.40,319.21 L336.90,319.07 L337.30,318.82 L337.40,319.09 L337.90,319.04 L338.40,319.11 L338.90,319.01 L339.40,319.70 L339.90,319.60 L340.40,319.74 L340.90,320.10 L341.40,319.48 L341.90,320.00 L342.40,319.43 L342.90,319.96 L343.40,320.04 L343.90,319.61 L344.40,319.84 L344.90,320.18 L345.40,319.92 L345.90,319.84 L346.40,319.61 L346.90,319.45 L347.40,319.69 L347.90,319.74 L348.40,319.57 L348.90,319.65 L349.40,319.52 L349.90,319.97 L350.40,319.94 L350.90,319.60 L351.40,319.60 L351.90,319.82 L352.40,319.76 L352.90,320.15 L353.40,319.68 L353.90,319.64 L354.40,320.11 L354.90,319.51 L355.40,319.85 L355.90,319.66 L356.40,320.05 L356.90,319.83 L357.40,320.00 L357.90,319.53 L358.40,319.93 L358.90,319.87 L359.40,319.76 L359.90,320.00 L360.40,320.05 L360.90,319.48 L361.40,319.61 L361.90,319.67 L362.40,319.54 L362.90,319.42 L363.40,319.60 L363.90,319.53 L364.40,319.93 L364.90,319.72 L365.40,319.45 L365.90,319.61 L366.40,319.72 L366.90,319.62 L367.40,319.46 L367.90,319.36 L368.40,319.28 L368.90,320.01 L369.40,319.70 L369.90,318.97 L370.40,319.15 L370.90,318.92 L371.40,318.07 L371.90,317.23 L372.40,317.28 L372.50,317.28 L372.90,317.35 L373.40,317.56 L373.90,318.36 L374.40,318.42 L374.90,319.52 L375.40,319.54 L375.90,319.67 L376.40,319.99 L376.90,319.80 L377.40,319.50 L377.90,319.51 L378.40,319.43 L378.90,319.35 L379.40,319.96 L379.90,320.01 L380.40,319.58 L380.90,319.49 L381.40,319.86 L381.90,320.03 L382.40,320.09 L382.90,319.49 L383.40,319.98 L383.90,320.02 L384.40,319.95 L384.90,319.61 L385.40,319.50 L385.90,320.01 L386.40,319.61 L386.90,319.65 L387.40,319.79 L387.90,319.65 L388.40,320.02 L388.90,319.54 L389.40,319.38 L389.90,319.80 L390.40,319.85 L390.90,320.01 L391.40,319.91 L391.90,320.07 L392.40,320.10 L392.90,319.74 L393.40,319.75 L393.90,319.47 L394.40,319.58 L394.90,319.81 L395.40,319.40 L395.90,319.89 L396.40,319.47 L396.90,319.69 L397.40,320.11 L397.90,319.40 L398.40,319.36 L398.90,319.68 L399.40,319.47 L399.90,319.89 L400.40,319.31 L400.90,319.96 L401.40,319.94 L401.90,319.83 L402.40,319.43 L402.90,319.15 L403.40,319.24 L403.90,318.90 L404.40,318.69 L404.60,318.74 L404.90,318.64 L405.40,318.88 L405.90,319.28 L406.40,319.61 L406.90,319.83 L407.40,319.33 L407.90,319.49 L408.40,319.64 L408.90,319.75 L409.40,319.58 L409.90,319.46 L410.40,319.38 L410.90,319.57 L411.40,319.68 L411.90,320.09 L412.40,320.04 L412.90,320.01 L413.40,320.10 L413.90,320.09 L414.40,319.81 L414.90,319.96 L415.40,319.36 L415.90,319.86 L416.40,319.80 L416.90,319.55 L417.40,319.77 L417.90,320.08 L418.40,319.70 L418.90,319.83 L419.40,319.55 L419.90,319.59 L420.40,320.02 L420.90,319.33 L421.40,319.46 L421.90,319.85 L422.40,319.67 L422.90,319.38 L423.40,319.84 L423.90,319.60 L424.40,319.77 L424.90,319.64 L425.40,319.73 L425.90,319.76 L426.40,319.62 L426.90,319.39 L427.40,319.45 L427.90,320.01 L428.40,319.74 L428.90,319.39 L429.40,319.99 L429.90,319.50 L430.40,319.37 L430.90,319.72 L431.40,319.50 L431.90,319.69 L432.40,319.74 L432.90,319.47 L433.40,319.75 L433.90,319.38 L434.40,319.70 L434.90,319.76 L435.40,319.35 L435.90,319.61 L436.40,319.35 L436.90,319.64 L437.40,319.98 L437.90,319.72 L438.40,319.85 L438.90,319.89 L439.40,319.37 L439.90,320.07 L440.40,319.86 L440.90,319.36 L441.40,319.94 L441.90,319.59 L442.40,319.41 L442.90,320.04 L443.40,319.72 L443.90,319.89 L444.40,319.38 L444.90,319.89 L445.40,319.31 L445.90,319.45 L446.40,319.56 L446.90,319.27 L447.40,319.74 L447.90,319.43 L448.40,319.50 L448.90,319.82 L449.40,319.59 L449.90,319.96 L450.40,319.75 L450.90,319.94 L451.40,319.69 L451.90,319.97 L452.40,319.93 L452.90,319.37 L453.40,319.82 L453.90,319.50 L454.40,319.83 L454.90,319.76 L455.40,319.86 L455.90,319.29 L456.40,319.48 L456.90,319.76 L457.40,319.91 L457.90,319.71 L458.40,319.14 L458.90,319.54 L459.40,319.04 L459.90,319.23 L460.40,319.11 L460.90,318.02 L461.40,317.88 L461.90,316.68 L462.40,315.31 L462.90,314.54 L463.20,314.65 L463.40,314.67 L463.90,315.60 L464.40,316.39 L464.90,317.04 L465.40,317.80 L465.90,318.46 L466.40,319.37 L466.90,319.07 L467.40,319.47 L467.90,319.31 L468.40,319.66 L468.90,319.44 L469.40,319.27 L469.90,319.86 L470.40,319.60 L470.90,319.73 L471.40,319.83 L471.90,319.95 L472.40,319.21 L472.90,319.47 L473.40,319.32 L473.90,319.61 L474.40,319.90 L474.90,319.85 L475.40,319.24 L475.90,319.36 L476.40,319.87 L476.90,319.76 L477.40,319.53 L477.90,319.59 L478.40,319.34 L478.90,319.89 L479.40,319.53 L479.90,319.91" stroke="#000"/>
</g>
<!-- chart a frame -->
<rect x="32.9" y="7.4" width="448.4" height="333.0" fill="none" stroke="#000" stroke-width="2.6" stroke-linejoin="round"/>
<path d="M33.1,340.4 V347.0 M51.2,340.4 V344.0 M69.2,340.4 V347.0 M87.3,340.4 V344.0 M105.4,340.4 V347.0 M123.5,340.4 V344.0 M141.6,340.4 V347.0 M159.6,340.4 V344.0 M177.7,340.4 V347.0 M195.8,340.4 V344.0 M213.8,340.4 V347.0 M231.9,340.4 V344.0 M250.0,340.4 V347.0 M268.1,340.4 V344.0 M286.2,340.4 V347.0 M304.2,340.4 V344.0 M322.3,340.4 V347.0 M340.4,340.4 V344.0 M358.5,340.4 V347.0 M376.5,340.4 V344.0 M394.6,340.4 V347.0 M412.7,340.4 V344.0 M430.8,340.4 V347.0 M448.8,340.4 V344.0 M466.9,340.4 V347.0" stroke="#000" stroke-width="2.6" fill="none"/>
<g style="font-family:&quot;Liberation Serif&quot;,serif;font-weight:bold;font-size:21px"><text x="33.1" y="367.2" text-anchor="middle">30</text><text x="69.2" y="367.2" text-anchor="middle">35</text><text x="105.4" y="367.2" text-anchor="middle">40</text><text x="141.6" y="367.2" text-anchor="middle">45</text><text x="177.7" y="367.2" text-anchor="middle">50</text><text x="213.8" y="367.2" text-anchor="middle">55</text><text x="250.0" y="367.2" text-anchor="middle">60</text><text x="286.2" y="367.2" text-anchor="middle">65</text><text x="322.3" y="367.2" text-anchor="middle">70</text><text x="358.5" y="367.2" text-anchor="middle">75</text><text x="394.6" y="367.2" text-anchor="middle">80</text><text x="430.8" y="367.2" text-anchor="middle">85</text><text x="466.9" y="367.2" text-anchor="middle">90</text></g>
<g style="font-family:&quot;Liberation Sans&quot;,sans-serif;font-weight:bold;font-size:14.8px"><text transform="translate(52.88,92.15) rotate(-90)" text-anchor="middle" textLength="37.0" lengthAdjust="spacing">(100)</text><text transform="translate(70.98,125.50) rotate(-90)" text-anchor="middle" textLength="37.0" lengthAdjust="spacing">(002)</text><text transform="translate(84.23,47.95) rotate(-90)" text-anchor="middle" textLength="37.0" lengthAdjust="spacing">(101)</text><text transform="translate(163.58,198.60) rotate(-90)" text-anchor="middle" textLength="37.0" lengthAdjust="spacing">(102)</text><text transform="translate(229.63,187.50) rotate(-90)" text-anchor="middle" textLength="37.0" lengthAdjust="spacing">(110)</text><text transform="translate(277.48,188.05) rotate(-90)" text-anchor="middle" textLength="37.0" lengthAdjust="spacing">(013)</text><text transform="translate(309.63,197.75) rotate(-90)" text-anchor="middle" textLength="37.0" lengthAdjust="spacing">(112)</text><text transform="translate(326.78,220.75) rotate(-90)" text-anchor="middle" textLength="37.0" lengthAdjust="spacing">(021)</text><text transform="translate(379.03,235.20) rotate(-90)" text-anchor="middle" textLength="37.0" lengthAdjust="spacing">(022)</text><text transform="translate(469.53,232.35) rotate(-90)" text-anchor="middle" textLength="37.0" lengthAdjust="spacing">(023)</text></g>
<!-- legend a -->
<g stroke-width="2.7">
<line x1="363.2" y1="101.5" x2="398.3" y2="101.5" stroke="#0000ff"/>
<line x1="363.2" y1="122" x2="398.3" y2="122" stroke="#ff0000"/>
<line x1="363.2" y1="143.7" x2="398.3" y2="143.7" stroke="#000"/>
</g>
<g style="font-family:&quot;Liberation Sans&quot;,sans-serif;font-weight:bold;font-size:16.5px">
<text x="402.5" y="107.1">ZnO:Al</text>
<text x="402.5" y="127.5">ZnO:In</text>
<text x="402.5" y="148.2">ZnO</text>
</g>
<text x="451.5" y="34" style="font-family:&quot;Liberation Sans&quot;,sans-serif;font-weight:bold;font-size:19px">(a)</text>
<!-- marker legend -->
<rect x="114.2" y="23.5" width="7.3" height="6.5" rx="0.8" fill="#ff0000" stroke="#000" stroke-width="1.1"/><rect x="114.2" y="59.2" width="7.3" height="7.3" rx="0.8" fill="#0000ff" stroke="#000" stroke-width="1.1"/><rect x="115.5" y="92.1" width="7.7" height="7.2" rx="0.8" fill="#000" stroke="#000" stroke-width="1.1"/>
<g style="font-family:&quot;Liberation Serif&quot;,serif;font-weight:bold;font-size:19.5px">
<text x="134" y="32.8">Zn<tspan font-size="12.8" dy="8">2</tspan><tspan dy="-8">In</tspan><tspan font-size="12.8" dy="8">2</tspan><tspan dy="-8">O</tspan><tspan font-size="12.8" dy="8">5</tspan></text>
<text x="134" y="68.6">In<tspan font-size="12.8" dy="8">2</tspan><tspan dy="-8">O</tspan><tspan font-size="12.8" dy="8">3</tspan></text>
<text x="131.5" y="102.8">ZnAl<tspan font-size="12.8" dy="8">2</tspan><tspan dy="-8">O</tspan><tspan font-size="12.8" dy="8">4</tspan></text>
</g>
<rect x="125.6" y="253.8" width="7.2" height="6.7" rx="0.8" fill="#000" stroke="#000" stroke-width="1.1"/><rect x="404.0" y="280.0" width="6.5" height="6.7" rx="0.8" fill="#ff0000" stroke="#000" stroke-width="1.1"/><rect x="433.4" y="278.5" width="6.7" height="6.8" rx="0.8" fill="#0000ff" stroke="#000" stroke-width="1.1"/>
<!-- axis titles a -->
<g style="font-family:&quot;Liberation Serif&quot;,serif;font-size:25px">
<text x="200.8" y="392.8" font-weight="bold">2</text>
<text x="213.6" y="392.8">θ</text>
<text x="229.8" y="392.8">(</text>
<text x="237.6" y="392.8" font-weight="bold" font-size="25.6px">degree)</text>
</g>
<g style="font-family:&quot;Liberation Serif&quot;,serif;font-weight:bold;font-size:26.5px">
<text transform="translate(20.3,245.2) rotate(-90)" textLength="98" lengthAdjust="spacingAndGlyphs">Intensity</text>
<text transform="translate(20.3,134.4) rotate(-90)" textLength="66.5" lengthAdjust="spacingAndGlyphs">(a. u.)</text>
</g>
<text x="226" y="431.6" style="font-family:&quot;Liberation Serif&quot;,serif;font-size:26px">(<tspan font-weight="bold">a</tspan>)</text>

<!-- chart b curves -->
<g fill="none" stroke-linejoin="round" stroke-linecap="round">
<path d="M556.0,129.8 L556.5,129.2 L557.0,129.5 L557.5,129.4 L558.0,130.1 L558.5,129.8 L559.0,129.2 L559.5,129.3 L560.0,129.5 L560.5,129.6 L561.0,129.7 L561.5,129.5 L562.0,129.5 L562.5,129.2 L563.0,129.7 L563.5,129.5 L564.0,129.2 L564.5,129.6 L565.0,130.1 L565.5,129.2 L566.0,129.3 L566.5,129.8 L567.0,129.4 L567.5,129.4 L568.0,129.6 L568.5,129.4 L569.0,129.7 L569.5,129.7 L570.0,130.1 L570.5,130.1 L571.0,129.2 L571.5,129.7 L572.0,129.9 L572.5,130.0 L573.0,129.9 L573.5,129.7 L574.0,129.7 L574.5,129.5 L575.0,129.4 L575.5,129.9 L576.0,130.0 L576.5,130.0 L577.0,129.8 L577.5,129.4 L578.0,129.8 L578.5,129.8 L579.0,129.6 L579.5,129.7 L580.0,129.4 L580.5,129.6 L581.0,129.5 L581.5,129.1 L582.0,129.4 L582.5,129.4 L583.0,130.0 L583.5,129.5 L584.0,129.4 L584.5,129.3 L585.0,129.3 L585.5,129.4 L586.0,129.2 L586.5,129.0 L587.0,129.9 L587.5,129.5 L588.0,129.5 L588.5,129.6 L589.0,129.3 L589.5,129.2 L590.0,129.1 L590.5,129.3 L591.0,129.3 L591.5,129.7 L592.0,129.5 L592.5,129.9 L593.0,129.3 L593.5,129.9 L594.0,129.5 L594.5,129.0 L595.0,129.1 L595.5,129.5 L596.0,129.9 L596.5,129.3 L597.0,129.7 L597.5,129.4 L598.0,129.8 L598.5,129.0 L599.0,129.4 L599.5,129.8 L600.0,129.2 L600.5,129.1 L601.0,128.9 L601.5,129.0 L602.0,129.1 L602.5,129.6 L603.0,129.1 L603.5,129.2 L604.0,129.0 L604.5,129.4 L605.0,129.7 L605.5,129.5 L606.0,129.0 L606.5,129.5 L607.0,129.7 L607.5,129.4 L608.0,128.8 L608.5,129.6 L609.0,129.6 L609.5,129.1 L610.0,128.9 L610.5,128.9 L611.0,129.2 L611.5,129.6 L612.0,129.3 L612.5,129.6 L613.0,128.9 L613.5,129.0 L614.0,129.4 L614.5,129.3 L615.0,129.0 L615.5,129.3 L616.0,128.9 L616.5,128.6 L617.0,129.0 L617.5,128.6 L618.0,129.1 L618.5,128.8 L619.0,129.0 L619.5,129.0 L620.0,128.7 L620.5,128.9 L621.0,128.4 L621.5,129.3 L622.0,128.9 L622.5,129.3 L623.0,128.4 L623.5,128.9 L624.0,129.0 L624.5,128.6 L625.0,128.3 L625.5,128.3 L626.0,128.3 L626.5,128.9 L627.0,128.2 L627.5,128.9 L628.0,128.4 L628.5,128.5 L629.0,128.5 L629.5,128.5 L630.0,128.5 L630.5,128.4 L631.0,128.1 L631.5,128.5 L632.0,128.0 L632.5,128.4 L633.0,128.4 L633.5,128.3 L634.0,127.8 L634.5,128.2 L635.0,128.4 L635.5,127.8 L636.0,127.6 L636.5,127.7 L637.0,128.1 L637.5,127.2 L638.0,127.0 L638.5,127.4 L639.0,127.5 L639.5,127.5 L640.0,127.0 L640.5,127.5 L641.0,126.7 L641.5,127.1 L642.0,126.3 L642.5,126.1 L643.0,126.1 L643.5,125.9 L644.0,126.2 L644.5,126.1 L645.0,125.5 L645.5,126.1 L646.0,125.3 L646.5,124.9 L647.0,124.7 L647.5,125.0 L648.0,124.9 L648.5,123.8 L649.0,123.4 L649.5,123.7 L650.0,122.8 L650.5,123.1 L651.0,122.2 L651.5,121.8 L652.0,120.9 L652.5,120.8 L653.0,119.8 L653.5,118.9 L654.0,118.7 L654.5,117.0 L655.0,116.7 L655.5,115.1 L656.0,114.6 L656.5,113.2 L657.0,112.4 L657.5,110.3 L658.0,109.4 L658.5,107.8 L659.0,106.8 L659.5,105.2 L660.0,103.2 L660.5,101.1 L661.0,99.4 L661.5,97.7 L662.0,96.2 L662.5,94.4 L663.0,92.9 L663.5,92.0 L664.0,90.7 L664.5,89.3 L665.0,89.2 L665.5,87.9 L666.0,88.0 L666.5,87.5 L667.0,88.4 L667.5,88.8 L668.0,88.8 L668.5,90.0 L669.0,90.9 L669.5,91.3 L670.0,92.3 L670.5,93.5 L671.0,94.9 L671.5,95.3 L672.0,96.9 L672.5,98.0 L673.0,99.1 L673.5,100.4 L674.0,101.9 L674.5,102.5 L675.0,104.5 L675.5,105.3 L676.0,107.0 L676.5,108.3 L677.0,108.9 L677.5,110.8 L678.0,112.1 L678.5,112.6 L679.0,113.4 L679.5,114.5 L680.0,116.3 L680.5,116.3 L681.0,118.0 L681.5,118.0 L682.0,119.4 L682.5,119.4 L683.0,120.1 L683.5,121.2 L684.0,121.2 L684.5,121.9 L685.0,123.0 L685.5,123.2 L686.0,123.8 L686.5,124.2 L687.0,123.6 L687.5,124.1 L688.0,125.0 L688.5,125.1 L689.0,124.7 L689.5,125.4 L690.0,125.3 L690.5,125.7 L691.0,125.6 L691.5,125.7 L692.0,126.8 L692.5,126.3 L693.0,126.9 L693.5,126.3 L694.0,126.8 L694.5,126.6 L695.0,127.0 L695.5,126.8 L696.0,127.4 L696.5,126.9 L697.0,127.6 L697.5,127.5 L698.0,127.1 L698.5,127.5 L699.0,127.7 L699.5,128.2 L700.0,127.6 L700.5,127.6 L701.0,128.4 L701.5,128.3 L702.0,128.2 L702.5,127.8 L703.0,127.8 L703.5,127.9 L704.0,127.8 L704.5,127.8 L705.0,128.3 L705.5,128.2 L706.0,128.4 L706.5,128.2 L707.0,127.9 L707.5,128.6 L708.0,128.6 L708.5,128.6 L709.0,128.6 L709.5,128.8 L710.0,129.1 L710.5,129.0 L711.0,128.9 L711.5,128.6 L712.0,128.5 L712.5,128.6 L713.0,129.2 L713.5,128.6 L714.0,128.7 L714.5,128.7 L715.0,128.4 L715.5,129.3 L716.0,128.3 L716.5,129.0 L717.0,129.3 L717.5,128.6 L718.0,129.0 L718.5,128.8 L719.0,128.7 L719.5,128.6 L720.0,128.6 L720.5,129.3 L721.0,129.3 L721.5,129.4 L722.0,128.5 L722.5,129.2 L723.0,128.8 L723.5,129.2 L724.0,129.1 L724.5,128.9 L725.0,129.5 L725.5,128.6 L726.0,129.3 L726.5,129.4 L727.0,129.1 L727.5,129.2 L728.0,129.6 L728.5,128.8 L729.0,129.2 L729.5,129.4 L730.0,129.0 L730.5,129.3 L731.0,129.0 L731.5,129.2 L732.0,129.3 L732.5,129.3 L733.0,129.0 L733.5,129.3 L734.0,129.2 L734.5,128.9 L735.0,129.3 L735.5,128.9 L736.0,129.6 L736.5,129.1 L737.0,129.4 L737.5,129.2 L738.0,129.2 L738.5,128.9 L739.0,128.8 L739.5,129.6 L740.0,129.2 L740.5,129.2 L741.0,129.2 L741.5,129.5 L742.0,128.9 L742.5,128.9 L743.0,129.5 L743.5,129.1 L744.0,129.3 L744.5,129.5 L745.0,129.6 L745.5,129.5 L746.0,128.7 L746.5,129.1 L747.0,129.5 L747.5,129.5 L748.0,128.8 L748.5,128.8 L749.0,128.9 L749.5,128.8 L750.0,129.0 L750.5,129.5 L751.0,129.2 L751.5,129.1 L752.0,128.7 L752.5,129.0 L753.0,129.6 L753.5,129.3 L754.0,129.1 L754.5,129.1 L755.0,129.4 L755.5,129.4 L756.0,128.8 L756.5,129.3 L757.0,129.0 L757.5,129.1 L758.0,128.8 L758.5,128.9 L759.0,128.9 L759.5,128.9 L760.0,128.6 L760.5,128.7 L761.0,129.1 L761.5,128.6 L762.0,128.7 L762.5,129.2 L763.0,128.8 L763.5,128.8 L764.0,128.7 L764.5,129.3 L765.0,128.6 L765.5,129.1 L766.0,129.3 L766.5,128.6 L767.0,128.8 L767.5,129.2 L768.0,129.0 L768.5,128.8 L769.0,128.4 L769.5,128.8 L770.0,128.7 L770.5,129.0 L771.0,128.6 L771.5,128.7 L772.0,128.9 L772.5,129.1 L773.0,128.6 L773.5,128.6 L774.0,128.8 L774.5,129.1 L775.0,128.4 L775.5,129.1 L776.0,128.8 L776.5,128.5 L777.0,128.8 L777.5,128.4 L778.0,128.1 L778.5,128.8 L779.0,128.4 L779.5,128.5 L780.0,128.5 L780.5,128.8 L781.0,128.7 L781.5,127.9 L782.0,128.4 L782.5,128.3 L783.0,128.3 L783.5,128.6 L784.0,128.1 L784.5,128.2 L785.0,128.5 L785.5,128.1 L786.0,128.1 L786.5,128.1 L787.0,128.3 L787.5,128.1 L788.0,128.2 L788.5,127.8 L789.0,127.4 L789.5,128.0 L790.0,127.8 L790.5,128.0 L791.0,127.9 L791.5,127.2 L792.0,127.3 L792.5,127.1 L793.0,127.8 L793.5,127.0 L794.0,126.9 L794.5,127.5 L795.0,127.2 L795.5,126.7 L796.0,127.2 L796.5,127.2 L797.0,126.9 L797.5,126.4 L798.0,126.9 L798.5,126.6 L799.0,126.6 L799.5,126.9 L800.0,126.7 L800.5,126.6 L801.0,125.8 L801.5,125.9 L802.0,125.9 L802.5,125.3 L803.0,126.2 L803.5,125.3 L804.0,125.1 L804.5,125.1 L805.0,124.8 L805.5,125.3 L806.0,124.8 L806.5,124.6 L807.0,124.3 L807.5,123.7 L808.0,123.8 L808.5,124.1 L809.0,123.8 L809.5,123.6 L810.0,122.7 L810.5,122.4 L811.0,122.0 L811.5,122.1 L812.0,121.6 L812.5,121.3 L813.0,120.9 L813.5,120.6 L814.0,119.9 L814.5,119.8 L815.0,118.7 L815.5,118.8 L816.0,117.7 L816.5,116.5 L817.0,116.0 L817.5,115.4 L818.0,114.3 L818.5,113.5 L819.0,112.1 L819.5,110.9 L820.0,110.1 L820.5,108.2 L821.0,107.0 L821.5,105.5 L822.0,103.4 L822.5,101.4 L823.0,99.8 L823.5,97.0 L824.0,95.1 L824.5,91.7 L825.0,89.4 L825.5,86.8 L826.0,83.2 L826.5,80.9 L827.0,76.9 L827.5,74.1 L828.0,70.4 L828.5,67.7 L829.0,64.0 L829.5,60.9 L830.0,57.5 L830.5,54.7 L831.0,52.1 L831.5,49.4 L832.0,47.4 L832.5,46.5 L833.0,44.9 L833.5,45.1 L834.0,44.4 L834.5,44.7 L835.0,45.5 L835.5,47.3 L836.0,48.9 L836.5,50.0 L837.0,52.0 L837.5,53.5 L838.0,56.2 L838.5,58.0 L839.0,59.6 L839.5,61.7 L840.0,64.6 L840.5,66.2 L841.0,69.3 L841.5,71.1 L842.0,73.5 L842.5,76.3 L843.0,78.6 L843.5,81.3 L844.0,83.5 L844.5,86.7 L845.0,88.6 L845.5,91.5 L846.0,93.1 L846.5,95.9 L847.0,98.2 L847.5,99.6 L848.0,101.2 L848.5,103.3 L849.0,105.3 L849.5,106.4 L850.0,108.2 L850.5,109.1 L851.0,110.8 L851.5,112.2 L852.0,113.0 L852.5,114.3 L853.0,114.7 L853.5,116.3 L854.0,116.4 L854.5,117.9 L855.0,118.7 L855.5,119.2 L856.0,119.4 L856.5,119.7 L857.0,120.3 L857.5,121.1 L858.0,121.3 L858.5,122.2 L859.0,121.7 L859.5,122.4 L860.0,123.1 L860.5,123.2 L861.0,123.4 L861.5,123.2 L862.0,123.5 L862.5,123.9 L863.0,124.7 L863.5,124.9 L864.0,124.4 L864.5,125.3 L865.0,124.6 L865.5,125.3 L866.0,125.9 L866.5,125.4 L867.0,126.1 L867.5,126.0 L868.0,125.5 L868.5,125.9 L869.0,126.2 L869.5,126.1 L870.0,126.7 L870.5,126.2 L871.0,126.9 L871.5,126.5 L872.0,126.4 L872.5,127.0 L873.0,126.6 L873.5,127.1 L874.0,127.4 L874.5,127.3 L875.0,127.3 L875.5,126.9 L876.0,127.5 L876.5,127.1 L877.0,127.7 L877.5,127.3 L878.0,127.8 L878.5,127.6 L879.0,127.7 L879.5,128.0 L880.0,127.6 L880.5,127.6 L881.0,128.5 L881.5,127.9 L882.0,128.5 L882.5,128.5 L883.0,128.2 L883.5,127.9 L884.0,127.9 L884.5,128.7 L885.0,128.0 L885.5,128.4 L886.0,128.5 L886.5,128.1 L887.0,128.5 L887.5,128.2 L888.0,128.6 L888.5,128.6 L889.0,128.5 L889.5,128.4 L890.0,128.6 L890.5,128.4 L891.0,128.4 L891.5,128.5 L892.0,129.2 L892.5,128.8 L893.0,129.2 L893.5,128.4 L894.0,129.3 L894.5,128.9 L895.0,129.2 L895.5,129.0 L896.0,129.2 L896.5,128.7 L897.0,129.3 L897.5,128.7 L898.0,128.8 L898.5,128.6 L899.0,129.0 L899.5,129.1 L900.0,128.9 L900.5,129.5 L901.0,128.8 L901.5,129.3 L902.0,128.9 L902.5,129.3 L903.0,129.5 L903.5,129.5 L904.0,128.8 L904.5,129.0 L905.0,129.4 L905.5,129.8 L906.0,128.9 L906.5,129.5 L907.0,129.5 L907.5,129.7 L908.0,129.2 L908.5,129.7 L909.0,129.4 L909.5,129.8 L910.0,128.9 L910.5,129.9 L911.0,129.4 L911.5,129.4 L912.0,129.1 L912.5,129.2 L913.0,129.7 L913.5,129.7 L914.0,129.2 L914.5,129.4 L915.0,129.2 L915.5,129.2 L916.0,129.3 L916.5,129.4 L917.0,130.0 L917.5,130.1 L918.0,129.9 L918.5,129.6 L919.0,129.6 L919.5,129.9 L920.0,130.0 L920.5,129.9 L921.0,129.8 L921.5,129.3 L922.0,129.8 L922.5,130.0 L923.0,130.0 L923.5,129.3 L924.0,129.9 L924.5,129.5 L925.0,129.4 L925.5,130.2 L926.0,129.9 L926.5,130.0 L927.0,129.4 L927.5,130.1 L928.0,130.2 L928.5,130.2 L929.0,130.0 L929.5,130.1 L930.0,130.1 L930.5,129.9 L931.0,129.7 L931.5,130.1 L932.0,130.1 L932.5,130.2 L933.0,129.6 L933.5,130.3 L934.0,129.8 L934.5,130.3 L935.0,129.4 L935.5,130.3 L936.0,130.1 L936.5,129.6 L937.0,130.2 L937.5,129.6 L938.0,129.5 L938.5,129.8 L939.0,129.6 L939.5,129.9 L940.0,130.3 L940.5,130.1 L941.0,130.1 L941.5,129.8 L942.0,130.2 L942.5,130.2 L943.0,130.1 L943.5,130.3 L944.0,130.2 L944.5,129.8 L945.0,129.5 L945.5,130.1 L946.0,130.3 L946.5,129.8 L947.0,130.0 L947.5,130.3 L948.0,130.2 L948.5,129.4 L949.0,129.9 L949.5,129.5 L950.0,129.6 L950.5,130.3 L951.0,129.9 L951.5,130.1 L952.0,129.9 L952.5,129.8 L953.0,129.7 L953.5,129.8 L954.0,130.3 L954.5,130.1 L955.0,129.8 L955.5,129.6 L956.0,129.8 L956.5,130.2 L957.0,129.9 L957.5,130.2 L958.0,130.3 L958.5,129.6 L959.0,130.2 L959.5,129.6 L960.0,130.3 L960.5,129.7 L961.0,129.8 L961.5,130.5 L962.0,129.9 L962.5,129.8 L963.0,130.4 L963.5,130.2 L964.0,130.4 L964.5,129.9 L965.0,130.0 L965.5,130.5 L966.0,130.1 L966.5,130.5 L967.0,129.8 L967.5,130.4 L968.0,129.7 L968.5,130.1 L969.0,129.6 L969.5,129.7 L970.0,130.5 L970.5,130.0 L971.0,130.4 L971.5,129.8 L972.0,129.9 L972.5,129.7 L973.0,130.1 L973.5,130.5 L974.0,130.1 L974.5,130.0 L975.0,130.5 L975.5,130.5 L976.0,130.3 L976.5,129.7 L977.0,130.2 L977.5,130.1 L978.0,130.6 L978.5,130.0 L979.0,130.3 L979.5,130.3 L980.0,130.0 L980.5,130.1 L981.0,130.3 L981.5,130.5 L982.0,130.1 L982.5,130.0 L983.0,130.6 L983.5,129.7 L984.0,130.5 L984.5,130.3 L985.0,130.2 L985.5,130.1 L986.0,130.4 L986.5,130.5 L987.0,130.4 L987.5,130.4 L988.0,129.7 L988.5,130.0 L989.0,129.8 L989.5,130.6 L990.0,130.6 L990.5,129.8 L991.0,130.3 L991.5,130.2 L992.0,129.7 L992.5,130.1 L993.0,130.4 L993.5,130.3 L994.0,130.0 L994.5,130.4 L995.0,130.0 L995.5,130.2 L996.0,130.1 L996.5,130.7 L997.0,130.3 L997.5,130.5 L998.0,130.4 L998.5,130.1 L999.0,130.7 L999.5,130.4 L1000.0,130.4 L1000.5,130.0 L1001.0,129.9 L1001.5,130.3 L1002.0,130.5 L1002.5,130.5 L1003.0,130.1 L1003.5,129.8 L1004.0,130.2 L1004.5,130.6 L1005.0,129.9 L1005.5,130.5 L1006.0,129.9 L1006.5,130.0 L1007.0,129.8 L1007.5,130.0 L1008.0,130.1 L1008.5,130.7 L1009.0,130.7 L1009.5,129.9 L1010.0,130.0" stroke="#0000ff" stroke-width="3.0"/>
<path d="M556.0,225.0 L556.5,224.2 L557.0,224.3 L557.5,224.4 L558.0,224.1 L558.5,224.3 L559.0,224.4 L559.5,224.4 L560.0,225.0 L560.5,224.3 L561.0,224.2 L561.5,224.9 L562.0,224.4 L562.5,224.8 L563.0,224.6 L563.5,224.7 L564.0,224.3 L564.5,224.1 L565.0,224.7 L565.5,224.4 L566.0,224.5 L566.5,224.6 L567.0,224.7 L567.5,224.2 L568.0,224.3 L568.5,224.8 L569.0,224.4 L569.5,224.2 L570.0,224.5 L570.5,224.2 L571.0,224.7 L571.5,223.9 L572.0,224.7 L572.5,224.4 L573.0,224.2 L573.5,224.8 L574.0,224.1 L574.5,224.1 L575.0,223.9 L575.5,224.4 L576.0,224.6 L576.5,224.5 L577.0,224.2 L577.5,224.6 L578.0,223.9 L578.5,224.1 L579.0,224.4 L579.5,224.7 L580.0,224.4 L580.5,224.4 L581.0,224.5 L581.5,224.1 L582.0,224.7 L582.5,224.5 L583.0,224.1 L583.5,224.1 L584.0,224.5 L584.5,224.0 L585.0,223.9 L585.5,224.5 L586.0,224.2 L586.5,224.2 L587.0,224.3 L587.5,224.5 L588.0,223.8 L588.5,223.9 L589.0,223.7 L589.5,224.0 L590.0,224.1 L590.5,224.4 L591.0,224.2 L591.5,224.1 L592.0,223.9 L592.5,224.1 L593.0,223.8 L593.5,224.3 L594.0,224.3 L594.5,224.3 L595.0,223.6 L595.5,224.1 L596.0,224.2 L596.5,223.9 L597.0,224.3 L597.5,224.3 L598.0,224.1 L598.5,224.1 L599.0,224.0 L599.5,224.2 L600.0,223.4 L600.5,224.0 L601.0,223.9 L601.5,223.8 L602.0,223.5 L602.5,223.2 L603.0,223.8 L603.5,224.0 L604.0,223.4 L604.5,223.3 L605.0,223.3 L605.5,223.1 L606.0,223.7 L606.5,224.0 L607.0,223.8 L607.5,223.3 L608.0,223.6 L608.5,222.9 L609.0,223.7 L609.5,223.1 L610.0,222.8 L610.5,223.4 L611.0,222.9 L611.5,223.0 L612.0,222.7 L612.5,223.1 L613.0,223.1 L613.5,223.3 L614.0,222.5 L614.5,223.3 L615.0,222.5 L615.5,222.6 L616.0,222.9 L616.5,222.6 L617.0,222.5 L617.5,222.7 L618.0,222.3 L618.5,222.8 L619.0,222.2 L619.5,222.8 L620.0,222.7 L620.5,222.3 L621.0,221.8 L621.5,222.4 L622.0,221.6 L622.5,222.0 L623.0,221.8 L623.5,221.4 L624.0,221.9 L624.5,221.9 L625.0,221.6 L625.5,221.3 L626.0,221.3 L626.5,221.3 L627.0,220.8 L627.5,221.3 L628.0,221.3 L628.5,221.0 L629.0,221.0 L629.5,220.2 L630.0,220.7 L630.5,219.6 L631.0,219.8 L631.5,219.3 L632.0,219.4 L632.5,219.4 L633.0,219.2 L633.5,218.7 L634.0,218.4 L634.5,218.0 L635.0,217.9 L635.5,217.5 L636.0,217.1 L636.5,217.4 L637.0,216.8 L637.5,216.4 L638.0,215.8 L638.5,215.9 L639.0,215.0 L639.5,214.7 L640.0,214.6 L640.5,214.3 L641.0,214.1 L641.5,213.4 L642.0,213.1 L642.5,212.6 L643.0,211.8 L643.5,211.3 L644.0,210.1 L644.5,209.7 L645.0,208.9 L645.5,209.1 L646.0,208.4 L646.5,207.7 L647.0,206.7 L647.5,206.2 L648.0,205.3 L648.5,205.2 L649.0,204.9 L649.5,203.6 L650.0,202.7 L650.5,202.2 L651.0,201.8 L651.5,201.8 L652.0,201.2 L652.5,200.3 L653.0,199.5 L653.5,199.0 L654.0,198.7 L654.5,199.0 L655.0,198.4 L655.5,198.6 L656.0,198.3 L656.5,198.1 L657.0,197.7 L657.5,198.0 L658.0,197.3 L658.5,197.4 L659.0,197.9 L659.5,198.1 L660.0,198.0 L660.5,198.3 L661.0,198.4 L661.5,199.6 L662.0,199.8 L662.5,200.4 L663.0,200.9 L663.5,200.9 L664.0,201.6 L664.5,201.8 L665.0,202.8 L665.5,203.4 L666.0,203.2 L666.5,203.7 L667.0,204.5 L667.5,205.4 L668.0,205.8 L668.5,206.0 L669.0,207.5 L669.5,208.0 L670.0,208.3 L670.5,208.4 L671.0,209.8 L671.5,210.0 L672.0,210.1 L672.5,210.9 L673.0,211.7 L673.5,212.5 L674.0,212.6 L674.5,213.2 L675.0,213.2 L675.5,213.7 L676.0,214.8 L676.5,214.7 L677.0,214.8 L677.5,215.7 L678.0,215.6 L678.5,216.0 L679.0,216.6 L679.5,217.1 L680.0,217.4 L680.5,217.8 L681.0,217.8 L681.5,217.7 L682.0,218.6 L682.5,218.2 L683.0,218.8 L683.5,219.0 L684.0,219.5 L684.5,219.7 L685.0,219.4 L685.5,220.0 L686.0,220.2 L686.5,220.2 L687.0,220.0 L687.5,220.9 L688.0,220.8 L688.5,220.3 L689.0,220.7 L689.5,221.5 L690.0,220.9 L690.5,221.2 L691.0,221.7 L691.5,221.8 L692.0,221.7 L692.5,221.9 L693.0,221.3 L693.5,221.4 L694.0,222.4 L694.5,222.3 L695.0,221.6 L695.5,221.7 L696.0,221.9 L696.5,222.7 L697.0,222.0 L697.5,222.5 L698.0,222.8 L698.5,222.6 L699.0,222.9 L699.5,222.3 L700.0,222.3 L700.5,222.2 L701.0,222.9 L701.5,222.3 L702.0,223.2 L702.5,223.0 L703.0,222.5 L703.5,223.2 L704.0,222.6 L704.5,223.0 L705.0,222.6 L705.5,223.3 L706.0,223.4 L706.5,223.5 L707.0,222.6 L707.5,223.5 L708.0,223.2 L708.5,223.5 L709.0,223.2 L709.5,223.3 L710.0,223.3 L710.5,223.6 L711.0,222.9 L711.5,222.8 L712.0,223.4 L712.5,223.1 L713.0,223.2 L713.5,222.9 L714.0,223.6 L714.5,222.9 L715.0,223.7 L715.5,223.7 L716.0,223.4 L716.5,223.1 L717.0,223.6 L717.5,223.2 L718.0,223.4 L718.5,223.1 L719.0,224.0 L719.5,223.6 L720.0,223.4 L720.5,223.1 L721.0,223.8 L721.5,223.9 L722.0,223.9 L722.5,223.2 L723.0,223.5 L723.5,223.4 L724.0,223.9 L724.5,223.3 L725.0,223.7 L725.5,224.1 L726.0,223.9 L726.5,223.1 L727.0,223.2 L727.5,223.2 L728.0,223.8 L728.5,223.7 L729.0,223.7 L729.5,223.6 L730.0,223.6 L730.5,223.8 L731.0,223.8 L731.5,224.1 L732.0,223.9 L732.5,224.0 L733.0,224.1 L733.5,224.0 L734.0,223.9 L734.5,223.2 L735.0,223.8 L735.5,224.0 L736.0,223.6 L736.5,224.0 L737.0,223.3 L737.5,224.1 L738.0,223.6 L738.5,223.8 L739.0,223.4 L739.5,223.4 L740.0,223.5 L740.5,223.4 L741.0,223.2 L741.5,223.6 L742.0,224.1 L742.5,223.8 L743.0,224.0 L743.5,223.8 L744.0,223.9 L744.5,224.1 L745.0,223.8 L745.5,223.3 L746.0,223.3 L746.5,223.5 L747.0,223.1 L747.5,223.3 L748.0,223.9 L748.5,223.9 L749.0,223.3 L749.5,223.7 L750.0,223.7 L750.5,223.8 L751.0,223.7 L751.5,223.5 L752.0,223.0 L752.5,223.7 L753.0,223.2 L753.5,223.5 L754.0,223.2 L754.5,223.4 L755.0,223.8 L755.5,223.0 L756.0,223.3 L756.5,223.4 L757.0,223.3 L757.5,223.7 L758.0,223.1 L758.5,223.6 L759.0,223.4 L759.5,223.6 L760.0,222.7 L760.5,222.8 L761.0,222.9 L761.5,223.5 L762.0,222.6 L762.5,222.8 L763.0,223.2 L763.5,223.5 L764.0,222.6 L764.5,222.8 L765.0,223.1 L765.5,223.0 L766.0,223.1 L766.5,223.0 L767.0,222.5 L767.5,222.5 L768.0,222.2 L768.5,222.8 L769.0,222.3 L769.5,222.3 L770.0,223.0 L770.5,222.6 L771.0,222.5 L771.5,222.6 L772.0,222.5 L772.5,222.5 L773.0,222.1 L773.5,221.8 L774.0,221.7 L774.5,221.6 L775.0,221.9 L775.5,221.7 L776.0,221.6 L776.5,221.9 L777.0,222.3 L777.5,222.0 L778.0,221.5 L778.5,221.9 L779.0,221.3 L779.5,221.1 L780.0,221.2 L780.5,221.3 L781.0,221.5 L781.5,221.1 L782.0,221.3 L782.5,220.6 L783.0,221.4 L783.5,220.7 L784.0,221.1 L784.5,220.2 L785.0,220.9 L785.5,220.2 L786.0,220.7 L786.5,220.5 L787.0,220.2 L787.5,219.7 L788.0,219.3 L788.5,219.3 L789.0,219.9 L789.5,219.0 L790.0,219.3 L790.5,219.1 L791.0,219.0 L791.5,218.3 L792.0,218.1 L792.5,217.8 L793.0,218.5 L793.5,217.7 L794.0,217.7 L794.5,217.3 L795.0,216.7 L795.5,216.3 L796.0,215.9 L796.5,216.4 L797.0,215.4 L797.5,215.8 L798.0,214.8 L798.5,214.8 L799.0,213.8 L799.5,214.0 L800.0,213.0 L800.5,212.6 L801.0,212.2 L801.5,211.3 L802.0,210.8 L802.5,210.7 L803.0,209.6 L803.5,209.0 L804.0,208.7 L804.5,207.4 L805.0,206.5 L805.5,205.7 L806.0,205.0 L806.5,204.1 L807.0,203.5 L807.5,202.3 L808.0,201.7 L808.5,199.8 L809.0,199.3 L809.5,198.3 L810.0,196.5 L810.5,195.1 L811.0,194.3 L811.5,192.7 L812.0,191.7 L812.5,190.6 L813.0,188.6 L813.5,187.2 L814.0,186.1 L814.5,184.4 L815.0,183.1 L815.5,181.8 L816.0,180.1 L816.5,178.7 L817.0,177.6 L817.5,176.4 L818.0,175.7 L818.5,174.1 L819.0,172.5 L819.5,171.6 L820.0,171.2 L820.5,170.3 L821.0,169.9 L821.5,169.4 L822.0,168.8 L822.5,167.8 L823.0,168.4 L823.5,167.9 L824.0,167.7 L824.5,167.8 L825.0,168.8 L825.5,168.6 L826.0,169.0 L826.5,169.8 L827.0,171.1 L827.5,171.5 L828.0,172.6 L828.5,172.9 L829.0,174.3 L829.5,175.2 L830.0,176.2 L830.5,177.8 L831.0,178.7 L831.5,179.7 L832.0,181.8 L832.5,182.6 L833.0,183.6 L833.5,184.7 L834.0,186.7 L834.5,187.8 L835.0,188.6 L835.5,190.4 L836.0,191.9 L836.5,193.0 L837.0,193.9 L837.5,195.4 L838.0,196.7 L838.5,197.9 L839.0,198.5 L839.5,200.2 L840.0,201.4 L840.5,202.2 L841.0,203.3 L841.5,203.8 L842.0,205.2 L842.5,205.4 L843.0,206.2 L843.5,207.4 L844.0,208.5 L844.5,208.4 L845.0,209.2 L845.5,209.7 L846.0,210.7 L846.5,211.0 L847.0,211.6 L847.5,212.7 L848.0,213.1 L848.5,213.9 L849.0,213.9 L849.5,214.6 L850.0,214.3 L850.5,215.7 L851.0,215.3 L851.5,215.9 L852.0,216.3 L852.5,217.1 L853.0,216.9 L853.5,217.7 L854.0,217.6 L854.5,217.5 L855.0,218.3 L855.5,217.9 L856.0,219.0 L856.5,218.6 L857.0,218.6 L857.5,219.5 L858.0,219.1 L858.5,219.3 L859.0,219.5 L859.5,219.9 L860.0,219.4 L860.5,219.9 L861.0,219.9 L861.5,220.7 L862.0,220.0 L862.5,220.7 L863.0,220.5 L863.5,220.8 L864.0,221.0 L864.5,221.3 L865.0,220.8 L865.5,221.0 L866.0,221.0 L866.5,221.9 L867.0,221.2 L867.5,221.2 L868.0,221.7 L868.5,221.8 L869.0,222.2 L869.5,221.5 L870.0,221.7 L870.5,221.7 L871.0,222.2 L871.5,222.1 L872.0,222.2 L872.5,222.7 L873.0,222.5 L873.5,222.8 L874.0,222.9 L874.5,222.3 L875.0,223.0 L875.5,222.6 L876.0,222.2 L876.5,223.2 L877.0,222.4 L877.5,222.4 L878.0,222.7 L878.5,222.7 L879.0,223.4 L879.5,223.4 L880.0,223.0 L880.5,223.1 L881.0,223.5 L881.5,223.5 L882.0,223.4 L882.5,223.3 L883.0,222.9 L883.5,223.1 L884.0,223.5 L884.5,223.5 L885.0,223.7 L885.5,223.8 L886.0,223.9 L886.5,223.2 L887.0,223.1 L887.5,224.0 L888.0,223.7 L888.5,223.3 L889.0,223.8 L889.5,223.4 L890.0,223.4 L890.5,223.6 L891.0,223.8 L891.5,224.0 L892.0,223.4 L892.5,224.1 L893.0,224.0 L893.5,223.8 L894.0,224.1 L894.5,224.2 L895.0,223.4 L895.5,223.9 L896.0,224.2 L896.5,224.2 L897.0,224.2 L897.5,223.7 L898.0,224.5 L898.5,224.4 L899.0,223.8 L899.5,224.0 L900.0,224.6 L900.5,223.8 L901.0,224.1 L901.5,224.6 L902.0,224.6 L902.5,223.9 L903.0,224.5 L903.5,224.1 L904.0,224.4 L904.5,224.5 L905.0,223.9 L905.5,224.0 L906.0,224.0 L906.5,224.1 L907.0,223.9 L907.5,224.0 L908.0,224.3 L908.5,224.3 L909.0,224.0 L909.5,224.5 L910.0,224.9 L910.5,224.5 L911.0,224.3 L911.5,224.7 L912.0,224.4 L912.5,224.1 L913.0,224.5 L913.5,224.0 L914.0,224.7 L914.5,224.2 L915.0,224.4 L915.5,225.0 L916.0,224.8 L916.5,224.9 L917.0,224.7 L917.5,224.7 L918.0,224.8 L918.5,225.1 L919.0,224.3 L919.5,224.9 L920.0,224.4 L920.5,224.4 L921.0,225.0 L921.5,224.8 L922.0,225.0 L922.5,225.0 L923.0,224.8 L923.5,224.4 L924.0,224.2 L924.5,224.7 L925.0,224.9 L925.5,224.5 L926.0,224.3 L926.5,224.2 L927.0,224.4 L927.5,224.9 L928.0,224.3 L928.5,224.5 L929.0,224.5 L929.5,225.0 L930.0,225.3 L930.5,224.3 L931.0,224.4 L931.5,225.2 L932.0,225.3 L932.5,224.5 L933.0,224.7 L933.5,224.9 L934.0,224.7 L934.5,224.8 L935.0,224.8 L935.5,224.6 L936.0,224.4 L936.5,224.5 L937.0,224.5 L937.5,224.5 L938.0,225.0 L938.5,225.1 L939.0,224.7 L939.5,225.2 L940.0,225.1 L940.5,224.8 L941.0,224.9 L941.5,224.6 L942.0,225.4 L942.5,225.0 L943.0,224.5 L943.5,224.6 L944.0,225.1 L944.5,224.8 L945.0,225.2 L945.5,224.7 L946.0,225.3 L946.5,225.3 L947.0,224.6 L947.5,225.1 L948.0,224.7 L948.5,225.2 L949.0,225.3 L949.5,225.3 L950.0,224.7 L950.5,224.6 L951.0,225.2 L951.5,225.1 L952.0,224.7 L952.5,224.7 L953.0,225.1 L953.5,224.6 L954.0,225.2 L954.5,224.8 L955.0,224.8 L955.5,225.0 L956.0,225.1 L956.5,225.3 L957.0,224.6 L957.5,225.3 L958.0,224.8 L958.5,224.9 L959.0,225.2 L959.5,225.3 L960.0,225.2 L960.5,225.5 L961.0,224.8 L961.5,224.9 L962.0,225.3 L962.5,224.9 L963.0,224.8 L963.5,224.8 L964.0,225.4 L964.5,225.4 L965.0,225.3 L965.5,225.6 L966.0,225.4 L966.5,224.9 L967.0,225.0 L967.5,225.4 L968.0,224.7 L968.5,225.3 L969.0,224.7 L969.5,224.7 L970.0,225.2 L970.5,224.8 L971.0,225.6 L971.5,225.5 L972.0,225.1 L972.5,224.9 L973.0,224.8 L973.5,225.2 L974.0,225.2 L974.5,225.0 L975.0,225.4 L975.5,225.2 L976.0,225.5 L976.5,224.8 L977.0,224.8 L977.5,225.1 L978.0,225.2 L978.5,225.0 L979.0,225.4 L979.5,224.9 L980.0,225.0 L980.5,225.2 L981.0,225.4 L981.5,225.5 L982.0,225.1 L982.5,225.2 L983.0,225.7 L983.5,225.7 L984.0,225.4 L984.5,224.8 L985.0,225.2 L985.5,225.4 L986.0,225.0 L986.5,224.8 L987.0,225.7 L987.5,225.7 L988.0,224.9 L988.5,225.2 L989.0,225.4 L989.5,225.1 L990.0,224.8 L990.5,225.5 L991.0,225.5 L991.5,225.2 L992.0,224.9 L992.5,225.2 L993.0,224.9 L993.5,225.7 L994.0,224.8 L994.5,225.1 L995.0,225.6 L995.5,224.9 L996.0,224.9 L996.5,224.9 L997.0,225.0 L997.5,225.3 L998.0,225.6 L998.5,225.0 L999.0,225.0 L999.5,225.6 L1000.0,225.2 L1000.5,225.2 L1001.0,224.9 L1001.5,225.1 L1002.0,225.8 L1002.5,224.9 L1003.0,225.1 L1003.5,225.6 L1004.0,225.7 L1004.5,225.7 L1005.0,225.3 L1005.5,225.8 L1006.0,225.4 L1006.5,225.1 L1007.0,225.3 L1007.5,225.6 L1008.0,225.6 L1008.5,225.0 L1009.0,225.0 L1009.5,225.8 L1010.0,225.0" stroke="#ff0000" stroke-width="3.0"/>
<path d="M556.0,316.0 L556.5,315.5 L557.0,315.4 L557.5,315.5 L558.0,315.7 L558.5,316.2 L559.0,315.3 L559.5,316.0 L560.0,315.5 L560.5,315.4 L561.0,315.9 L561.5,315.5 L562.0,315.4 L562.5,315.6 L563.0,316.0 L563.5,316.0 L564.0,315.7 L564.5,315.2 L565.0,315.9 L565.5,315.8 L566.0,316.1 L566.5,316.1 L567.0,315.5 L567.5,316.0 L568.0,316.0 L568.5,315.4 L569.0,315.5 L569.5,315.5 L570.0,315.5 L570.5,315.5 L571.0,315.3 L571.5,315.4 L572.0,316.0 L572.5,315.5 L573.0,315.8 L573.5,316.0 L574.0,315.9 L574.5,315.4 L575.0,316.0 L575.5,315.9 L576.0,316.1 L576.5,315.8 L577.0,315.9 L577.5,315.9 L578.0,315.4 L578.5,315.8 L579.0,315.5 L579.5,315.9 L580.0,315.2 L580.5,315.6 L581.0,315.4 L581.5,315.9 L582.0,315.4 L582.5,315.9 L583.0,315.9 L583.5,315.9 L584.0,315.2 L584.5,316.0 L585.0,315.8 L585.5,315.7 L586.0,315.7 L586.5,315.1 L587.0,315.9 L587.5,315.6 L588.0,315.5 L588.5,315.4 L589.0,315.8 L589.5,315.8 L590.0,315.9 L590.5,315.2 L591.0,315.3 L591.5,315.2 L592.0,315.1 L592.5,315.3 L593.0,315.0 L593.5,315.8 L594.0,315.2 L594.5,315.0 L595.0,315.0 L595.5,315.7 L596.0,315.1 L596.5,315.4 L597.0,315.3 L597.5,315.7 L598.0,315.9 L598.5,315.2 L599.0,315.5 L599.5,315.8 L600.0,315.4 L600.5,315.8 L601.0,315.6 L601.5,315.2 L602.0,315.7 L602.5,315.4 L603.0,315.0 L603.5,315.4 L604.0,315.7 L604.5,315.3 L605.0,315.3 L605.5,315.2 L606.0,315.7 L606.5,315.5 L607.0,315.0 L607.5,315.1 L608.0,315.1 L608.5,315.7 L609.0,315.4 L609.5,314.9 L610.0,315.6 L610.5,314.8 L611.0,315.3 L611.5,315.1 L612.0,315.4 L612.5,315.1 L613.0,314.8 L613.5,315.2 L614.0,315.5 L614.5,315.4 L615.0,315.0 L615.5,314.8 L616.0,315.3 L616.5,315.4 L617.0,314.8 L617.5,315.4 L618.0,315.5 L618.5,314.9 L619.0,314.9 L619.5,315.2 L620.0,315.4 L620.5,314.6 L621.0,314.7 L621.5,314.7 L622.0,315.1 L622.5,314.6 L623.0,314.9 L623.5,314.8 L624.0,315.0 L624.5,314.4 L625.0,315.2 L625.5,315.2 L626.0,314.8 L626.5,315.0 L627.0,314.3 L627.5,315.1 L628.0,314.7 L628.5,314.8 L629.0,314.9 L629.5,314.4 L630.0,314.9 L630.5,314.2 L631.0,314.0 L631.5,314.4 L632.0,314.8 L632.5,314.7 L633.0,314.8 L633.5,314.3 L634.0,314.7 L634.5,314.2 L635.0,313.8 L635.5,314.2 L636.0,314.4 L636.5,313.9 L637.0,314.1 L637.5,313.7 L638.0,313.6 L638.5,313.7 L639.0,313.8 L639.5,313.7 L640.0,313.2 L640.5,313.1 L641.0,313.3 L641.5,313.6 L642.0,313.6 L642.5,313.0 L643.0,312.9 L643.5,313.1 L644.0,312.7 L644.5,313.0 L645.0,313.2 L645.5,312.4 L646.0,312.7 L646.5,312.7 L647.0,312.6 L647.5,312.5 L648.0,312.3 L648.5,311.7 L649.0,312.1 L649.5,312.1 L650.0,311.0 L650.5,311.7 L651.0,311.0 L651.5,310.4 L652.0,310.2 L652.5,310.6 L653.0,310.2 L653.5,309.4 L654.0,309.4 L654.5,309.3 L655.0,309.3 L655.5,308.2 L656.0,308.2 L656.5,307.2 L657.0,306.7 L657.5,306.2 L658.0,305.8 L658.5,305.5 L659.0,304.5 L659.5,303.7 L660.0,303.1 L660.5,302.2 L661.0,301.5 L661.5,300.8 L662.0,300.1 L662.5,298.8 L663.0,298.2 L663.5,297.1 L664.0,296.6 L664.5,295.0 L665.0,294.3 L665.5,292.7 L666.0,291.2 L666.5,290.4 L667.0,288.7 L667.5,287.5 L668.0,286.1 L668.5,285.5 L669.0,284.6 L669.5,282.9 L670.0,281.7 L670.5,280.8 L671.0,279.8 L671.5,279.3 L672.0,278.2 L672.5,277.4 L673.0,277.6 L673.5,277.0 L674.0,276.2 L674.5,277.0 L675.0,277.0 L675.5,276.8 L676.0,277.4 L676.5,278.1 L677.0,278.1 L677.5,278.7 L678.0,279.2 L678.5,280.2 L679.0,281.1 L679.5,282.0 L680.0,283.1 L680.5,283.3 L681.0,284.5 L681.5,286.0 L682.0,286.9 L682.5,287.8 L683.0,288.9 L683.5,289.7 L684.0,291.4 L684.5,292.0 L685.0,293.0 L685.5,293.8 L686.0,294.8 L686.5,296.5 L687.0,297.4 L687.5,297.6 L688.0,298.8 L688.5,299.9 L689.0,300.7 L689.5,301.4 L690.0,302.7 L690.5,302.9 L691.0,303.8 L691.5,304.8 L692.0,305.1 L692.5,305.6 L693.0,306.0 L693.5,306.5 L694.0,307.2 L694.5,307.9 L695.0,307.8 L695.5,308.3 L696.0,308.7 L696.5,309.0 L697.0,309.9 L697.5,309.8 L698.0,309.8 L698.5,310.1 L699.0,310.9 L699.5,310.4 L700.0,311.2 L700.5,310.7 L701.0,311.1 L701.5,311.1 L702.0,312.0 L702.5,311.5 L703.0,311.8 L703.5,311.7 L704.0,312.1 L704.5,312.6 L705.0,312.7 L705.5,313.0 L706.0,313.2 L706.5,312.9 L707.0,313.3 L707.5,312.6 L708.0,313.5 L708.5,313.1 L709.0,312.9 L709.5,313.6 L710.0,313.7 L710.5,313.3 L711.0,313.1 L711.5,313.9 L712.0,313.9 L712.5,313.8 L713.0,314.2 L713.5,313.3 L714.0,313.4 L714.5,313.5 L715.0,313.4 L715.5,314.1 L716.0,314.1 L716.5,313.6 L717.0,313.7 L717.5,313.8 L718.0,314.2 L718.5,314.3 L719.0,314.6 L719.5,314.1 L720.0,314.7 L720.5,314.2 L721.0,314.2 L721.5,314.1 L722.0,314.1 L722.5,314.8 L723.0,314.9 L723.5,314.6 L724.0,314.1 L724.5,314.1 L725.0,314.1 L725.5,314.3 L726.0,314.7 L726.5,314.1 L727.0,314.6 L727.5,314.7 L728.0,314.1 L728.5,314.5 L729.0,314.9 L729.5,314.7 L730.0,314.6 L730.5,315.0 L731.0,314.8 L731.5,314.5 L732.0,314.6 L732.5,315.1 L733.0,315.1 L733.5,315.1 L734.0,314.8 L734.5,314.4 L735.0,314.4 L735.5,314.6 L736.0,314.9 L736.5,314.3 L737.0,315.1 L737.5,315.1 L738.0,314.8 L738.5,314.3 L739.0,315.1 L739.5,314.7 L740.0,315.0 L740.5,314.9 L741.0,315.0 L741.5,314.7 L742.0,315.3 L742.5,315.3 L743.0,315.3 L743.5,314.9 L744.0,314.6 L744.5,314.7 L745.0,314.6 L745.5,315.2 L746.0,315.1 L746.5,315.1 L747.0,315.2 L747.5,315.3 L748.0,315.0 L748.5,314.7 L749.0,315.1 L749.5,314.6 L750.0,314.9 L750.5,314.5 L751.0,315.2 L751.5,314.8 L752.0,314.6 L752.5,315.2 L753.0,314.4 L753.5,315.2 L754.0,315.1 L754.5,314.5 L755.0,315.1 L755.5,314.9 L756.0,315.2 L756.5,314.9 L757.0,314.7 L757.5,315.2 L758.0,314.4 L758.5,315.0 L759.0,314.4 L759.5,314.5 L760.0,314.4 L760.5,315.1 L761.0,314.7 L761.5,314.9 L762.0,314.5 L762.5,314.9 L763.0,314.8 L763.5,314.3 L764.0,314.7 L764.5,314.9 L765.0,314.4 L765.5,314.8 L766.0,314.4 L766.5,314.5 L767.0,315.0 L767.5,315.0 L768.0,315.1 L768.5,314.5 L769.0,314.6 L769.5,314.9 L770.0,314.8 L770.5,314.5 L771.0,314.9 L771.5,314.4 L772.0,314.9 L772.5,314.4 L773.0,314.1 L773.5,314.7 L774.0,314.0 L774.5,314.6 L775.0,313.9 L775.5,314.8 L776.0,314.4 L776.5,314.5 L777.0,313.9 L777.5,314.4 L778.0,314.1 L778.5,314.0 L779.0,314.5 L779.5,313.7 L780.0,314.1 L780.5,313.7 L781.0,314.4 L781.5,314.5 L782.0,313.6 L782.5,314.0 L783.0,314.0 L783.5,314.2 L784.0,314.1 L784.5,313.7 L785.0,314.3 L785.5,313.5 L786.0,313.4 L786.5,314.1 L787.0,313.3 L787.5,313.4 L788.0,313.6 L788.5,313.4 L789.0,313.2 L789.5,313.9 L790.0,313.4 L790.5,313.7 L791.0,313.1 L791.5,313.7 L792.0,313.0 L792.5,313.6 L793.0,313.3 L793.5,313.6 L794.0,313.3 L794.5,313.1 L795.0,313.0 L795.5,313.3 L796.0,312.8 L796.5,312.4 L797.0,313.1 L797.5,312.9 L798.0,312.7 L798.5,312.7 L799.0,312.1 L799.5,312.3 L800.0,312.6 L800.5,312.6 L801.0,312.5 L801.5,311.7 L802.0,312.1 L802.5,311.9 L803.0,311.6 L803.5,311.3 L804.0,311.1 L804.5,311.3 L805.0,311.3 L805.5,310.9 L806.0,310.9 L806.5,310.9 L807.0,311.0 L807.5,310.7 L808.0,310.1 L808.5,310.7 L809.0,310.0 L809.5,310.4 L810.0,310.2 L810.5,309.2 L811.0,309.4 L811.5,309.6 L812.0,308.8 L812.5,308.7 L813.0,308.2 L813.5,307.7 L814.0,307.6 L814.5,307.2 L815.0,307.0 L815.5,307.0 L816.0,306.6 L816.5,306.6 L817.0,305.9 L817.5,305.1 L818.0,305.2 L818.5,304.4 L819.0,303.8 L819.5,303.5 L820.0,302.7 L820.5,301.8 L821.0,301.3 L821.5,300.3 L822.0,300.2 L822.5,298.6 L823.0,298.5 L823.5,296.6 L824.0,295.6 L824.5,295.1 L825.0,293.6 L825.5,292.8 L826.0,291.1 L826.5,290.6 L827.0,289.0 L827.5,287.6 L828.0,286.4 L828.5,284.9 L829.0,283.0 L829.5,281.3 L830.0,278.8 L830.5,277.1 L831.0,275.6 L831.5,274.2 L832.0,271.5 L832.5,269.8 L833.0,267.1 L833.5,265.4 L834.0,263.8 L834.5,261.4 L835.0,259.5 L835.5,256.6 L836.0,254.8 L836.5,252.8 L837.0,251.5 L837.5,249.0 L838.0,248.1 L838.5,245.9 L839.0,245.2 L839.5,243.6 L840.0,242.4 L840.5,242.2 L841.0,241.0 L841.5,240.8 L842.0,240.0 L842.5,240.8 L843.0,241.1 L843.5,240.6 L844.0,241.8 L844.5,242.0 L845.0,242.8 L845.5,244.0 L846.0,245.4 L846.5,247.0 L847.0,248.3 L847.5,249.8 L848.0,250.9 L848.5,252.6 L849.0,253.7 L849.5,256.0 L850.0,257.6 L850.5,259.2 L851.0,261.6 L851.5,262.9 L852.0,264.6 L852.5,266.5 L853.0,268.4 L853.5,270.7 L854.0,272.8 L854.5,274.0 L855.0,276.1 L855.5,278.0 L856.0,279.7 L856.5,281.2 L857.0,282.9 L857.5,283.9 L858.0,285.5 L858.5,287.3 L859.0,288.5 L859.5,290.3 L860.0,291.1 L860.5,292.9 L861.0,293.4 L861.5,294.4 L862.0,295.8 L862.5,296.7 L863.0,297.6 L863.5,298.9 L864.0,299.2 L864.5,300.4 L865.0,301.3 L865.5,301.6 L866.0,302.3 L866.5,303.4 L867.0,303.6 L867.5,303.8 L868.0,304.2 L868.5,304.7 L869.0,305.4 L869.5,305.6 L870.0,306.5 L870.5,306.7 L871.0,306.9 L871.5,307.5 L872.0,308.2 L872.5,307.8 L873.0,308.0 L873.5,308.5 L874.0,308.7 L874.5,309.6 L875.0,309.6 L875.5,309.5 L876.0,309.5 L876.5,309.6 L877.0,309.8 L877.5,310.7 L878.0,310.7 L878.5,310.4 L879.0,311.0 L879.5,310.6 L880.0,311.1 L880.5,311.1 L881.0,311.0 L881.5,311.8 L882.0,311.9 L882.5,311.8 L883.0,311.5 L883.5,312.1 L884.0,312.0 L884.5,312.3 L885.0,311.9 L885.5,312.8 L886.0,312.0 L886.5,312.3 L887.0,312.5 L887.5,312.4 L888.0,312.4 L888.5,313.0 L889.0,313.4 L889.5,312.8 L890.0,312.8 L890.5,313.3 L891.0,312.9 L891.5,313.2 L892.0,313.5 L892.5,313.3 L893.0,313.1 L893.5,313.1 L894.0,313.6 L894.5,314.1 L895.0,314.1 L895.5,313.3 L896.0,313.7 L896.5,313.8 L897.0,313.5 L897.5,314.1 L898.0,313.9 L898.5,314.3 L899.0,313.8 L899.5,314.5 L900.0,314.4 L900.5,314.1 L901.0,313.8 L901.5,314.2 L902.0,313.9 L902.5,314.5 L903.0,314.5 L903.5,314.4 L904.0,314.9 L904.5,314.0 L905.0,314.7 L905.5,314.8 L906.0,314.1 L906.5,314.3 L907.0,314.1 L907.5,314.7 L908.0,314.8 L908.5,314.5 L909.0,314.9 L909.5,314.6 L910.0,314.9 L910.5,314.5 L911.0,315.2 L911.5,314.7 L912.0,314.3 L912.5,314.4 L913.0,315.1 L913.5,315.2 L914.0,315.0 L914.5,314.6 L915.0,315.3 L915.5,315.2 L916.0,314.6 L916.5,314.9 L917.0,315.2 L917.5,314.5 L918.0,314.6 L918.5,314.9 L919.0,315.5 L919.5,315.6 L920.0,314.9 L920.5,315.5 L921.0,315.4 L921.5,315.5 L922.0,315.3 L922.5,315.7 L923.0,315.4 L923.5,315.7 L924.0,315.3 L924.5,314.9 L925.0,315.3 L925.5,315.3 L926.0,315.1 L926.5,315.2 L927.0,315.3 L927.5,315.4 L928.0,315.1 L928.5,315.1 L929.0,315.4 L929.5,315.4 L930.0,315.3 L930.5,315.6 L931.0,315.1 L931.5,315.5 L932.0,315.2 L932.5,315.7 L933.0,315.7 L933.5,315.8 L934.0,315.5 L934.5,315.2 L935.0,315.9 L935.5,315.5 L936.0,315.4 L936.5,315.3 L937.0,315.4 L937.5,315.8 L938.0,315.9 L938.5,315.6 L939.0,315.8 L939.5,315.3 L940.0,315.5 L940.5,315.5 L941.0,315.4 L941.5,315.5 L942.0,315.9 L942.5,315.9 L943.0,315.4 L943.5,315.4 L944.0,315.9 L944.5,315.8 L945.0,315.9 L945.5,315.8 L946.0,315.9 L946.5,315.5 L947.0,315.3 L947.5,315.6 L948.0,315.3 L948.5,316.2 L949.0,315.8 L949.5,315.9 L950.0,316.2 L950.5,316.1 L951.0,315.5 L951.5,315.6 L952.0,315.4 L952.5,316.1 L953.0,316.0 L953.5,315.8 L954.0,315.7 L954.5,315.6 L955.0,315.8 L955.5,316.0 L956.0,316.2 L956.5,316.2 L957.0,316.2 L957.5,315.8 L958.0,315.8 L958.5,315.7 L959.0,316.3 L959.5,315.5 L960.0,315.5 L960.5,315.7 L961.0,316.3 L961.5,316.2 L962.0,315.7 L962.5,316.2 L963.0,316.3 L963.5,315.8 L964.0,315.6 L964.5,316.2 L965.0,315.8 L965.5,315.5 L966.0,316.3 L966.5,315.9 L967.0,315.8 L967.5,316.0 L968.0,315.7 L968.5,315.5 L969.0,315.8 L969.5,315.8 L970.0,315.5 L970.5,315.8 L971.0,316.2 L971.5,315.8 L972.0,316.2 L972.5,316.1 L973.0,315.7 L973.5,315.5 L974.0,316.2 L974.5,316.1 L975.0,315.8 L975.5,315.7 L976.0,316.4 L976.5,316.4 L977.0,315.8 L977.5,316.1 L978.0,316.1 L978.5,315.9 L979.0,315.6 L979.5,315.9 L980.0,316.2 L980.5,316.1 L981.0,316.1 L981.5,315.7 L982.0,315.8 L982.5,315.9 L983.0,316.0 L983.5,315.9 L984.0,316.5 L984.5,315.7 L985.0,316.6 L985.5,315.8 L986.0,316.4 L986.5,315.8 L987.0,316.2 L987.5,316.0 L988.0,315.6 L988.5,316.4 L989.0,316.4 L989.5,315.9 L990.0,316.4 L990.5,316.1 L991.0,316.6 L991.5,315.7 L992.0,316.0 L992.5,315.8 L993.0,316.2 L993.5,316.4 L994.0,316.5 L994.5,316.2 L995.0,316.0 L995.5,316.4 L996.0,315.7 L996.5,315.9 L997.0,316.4 L997.5,316.1 L998.0,316.6 L998.5,315.7 L999.0,316.1 L999.5,315.9 L1000.0,315.7 L1000.5,315.8 L1001.0,315.8 L1001.5,316.0 L1002.0,316.1 L1002.5,316.2 L1003.0,316.0 L1003.5,316.4 L1004.0,316.2 L1004.5,316.7 L1005.0,315.9 L1005.5,316.2 L1006.0,316.2 L1006.5,316.1 L1007.0,316.6 L1007.5,315.9 L1008.0,316.6 L1008.5,316.1 L1009.0,316.0 L1009.5,316.3 L1010.0,316.3" stroke="#000" stroke-width="2.7"/>
</g>
<rect x="556.1" y="5.5" width="454.4" height="331.7" fill="none" stroke="#000" stroke-width="2.7" stroke-linejoin="round"/>
<path d="M556.0,337.2 V344.2 M601.4,337.2 V340.8 M646.9,337.2 V344.2 M692.3,337.2 V340.8 M737.7,337.2 V344.2 M783.1,337.2 V340.8 M828.5,337.2 V344.2 M874.0,337.2 V340.8 M919.4,337.2 V344.2 M964.8,337.2 V340.8 M1010.2,337.2 V344.2" stroke="#000" stroke-width="2.7" fill="none"/>
<g style="font-family:&quot;Liberation Serif&quot;,serif;font-weight:bold;font-size:19.5px"><text x="556.0" y="363.1" text-anchor="middle">33</text><text x="646.9" y="363.1" text-anchor="middle">34</text><text x="737.7" y="363.1" text-anchor="middle">35</text><text x="828.5" y="363.1" text-anchor="middle">36</text><text x="919.4" y="363.1" text-anchor="middle">37</text><text x="1010.2" y="363.1" text-anchor="middle">38</text></g>
<!-- legend b -->
<rect x="894.5" y="12" width="96" height="57" fill="#fff" stroke="#808080" stroke-width="1"/>
<g stroke-width="2.5">
<line x1="903.7" y1="23.5" x2="937.7" y2="23.5" stroke="#000"/>
<line x1="903.7" y1="42" x2="937.7" y2="42" stroke="#0000ff"/>
<line x1="903.7" y1="60.5" x2="937.7" y2="60.5" stroke="#ff0000"/>
</g>
<g style="font-family:&quot;Liberation Sans&quot;,sans-serif;font-size:15.4px">
<text x="942.2" y="28.2">ZnO</text>
<text x="942.2" y="46.7">AlZnO</text>
<text x="942.2" y="65.4">InZnO</text>
</g>
<g style="font-family:&quot;Liberation Serif&quot;,serif;font-size:25px">
<text x="722.2" y="391.6" font-weight="bold">2</text>
<text x="734.3" y="391.6">θ</text>
<text x="752.5" y="391.6" font-weight="bold" font-size="31px">(</text>
<text x="762.6" y="391.6" font-weight="bold">degree</text>
<text x="833" y="391.6" font-weight="bold" font-size="31px">)</text>
</g>
<g style="font-family:&quot;Liberation Serif&quot;,serif;font-weight:bold;font-size:25.7px">
<text transform="translate(547.2,250.7) rotate(-90)">Intensity</text>
<text transform="translate(547.2,149.3) rotate(-90)">(a.u.)</text>
</g>
<text x="755.5" y="432" style="font-family:&quot;Liberation Serif&quot;,serif;font-size:26px">(<tspan font-weight="bold">b</tspan>)</text>
</svg>
</body></html>
